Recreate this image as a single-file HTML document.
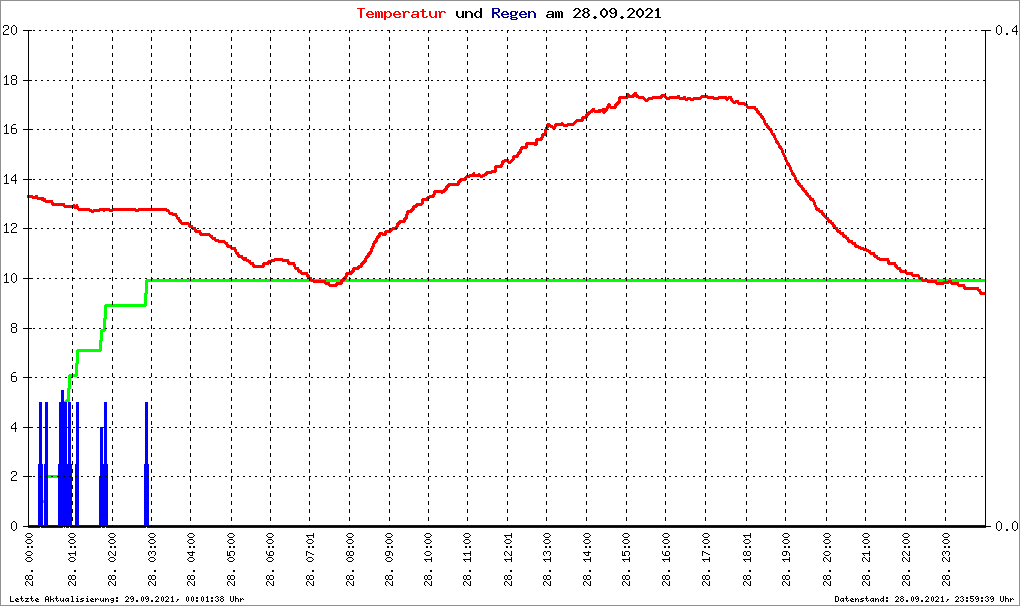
<!DOCTYPE html>
<html><head><meta charset="utf-8"><title>Temperatur und Regen am 28.09.2021</title>
<style>html,body{margin:0;padding:0;background:#fff;font-family:"Liberation Sans",sans-serif}svg{display:block}</style></head>
<body><svg width="1020" height="606" viewBox="0 0 1020 606" shape-rendering="crispEdges">
<rect x="0" y="0" width="1020" height="606" fill="#fff"/>
<path fill="#909090" d="M0 0h1020v606h-1020zM1 1v604h1018v-604z" fill-rule="evenodd"/>
<path fill="#00ff00" d="M43 500h1v3h-1zM48 475h11v3h-11zM64 401h1v1h-1zM65 400h1v2h-1zM66 399h1v3h-1zM67 388h1v14h-1zM68 375h1v27h-1zM69 374h1v28h-1zM70 374h1v15h-1zM71 374h4v3h-4zM75 363h1v14h-1zM76 350h1v27h-1zM77 349h1v27h-1zM78 349h1v15h-1zM79 349h20v3h-20zM99 340h1v12h-1zM100 330h1v22h-1zM101 329h1v22h-1zM102 329h1v12h-1zM103 318h1v14h-1zM104 305h1v27h-1zM105 304h1v27h-1zM106 304h1v15h-1zM107 304h37v3h-37zM144 293h1v14h-1zM145 280h1v27h-1zM146 279h1v27h-1zM147 279h1v15h-1zM148 279h837v3h-837z"/>
<path fill="#0000ff" d="M28 527h10v1h-10zM28 525h10v1h-10zM38 464h1v64h-1zM39 402h1v126h-1zM40 402h1v125h-1zM41 402h1v126h-1zM42 464h1v64h-1zM43 527h1v1h-1zM43 525h1v1h-1zM44 464h1v64h-1zM45 402h3v126h-3zM48 527h10v1h-10zM48 525h10v1h-10zM58 464h1v64h-1zM59 402h2v126h-2zM61 390h2v138h-2zM63 390h1v137h-1zM64 402h1v126h-1zM65 402h1v125h-1zM66 402h1v126h-1zM67 464h1v64h-1zM68 402h1v126h-1zM69 402h1v125h-1zM70 402h1v126h-1zM71 464h1v64h-1zM72 527h3v1h-3zM72 525h3v1h-3zM75 464h1v64h-1zM76 402h3v126h-3zM79 527h20v1h-20zM79 525h20v1h-20zM99 476h1v52h-1zM100 427h1v101h-1zM101 427h1v100h-1zM102 427h1v101h-1zM103 464h1v64h-1zM104 402h1v126h-1zM105 402h1v125h-1zM106 402h1v126h-1zM107 464h1v64h-1zM108 527h36v1h-36zM108 525h36v1h-36zM144 464h1v64h-1zM145 402h1v126h-1zM146 402h1v125h-1zM147 402h1v126h-1zM148 464h1v64h-1zM149 527h837v1h-837zM149 525h837v1h-837z"/>
<path fill="#ff0000" d="M27 195h5v3h-5zM32 195h1v4h-1zM33 196h2v3h-2zM35 195h2v4h-2zM37 195h1v5h-1zM38 197h3v3h-3zM41 197h2v4h-2zM43 197h1v5h-1zM44 198h1v4h-1zM45 198h1v5h-1zM46 200h5v3h-5zM51 200h1v5h-1zM52 200h1v6h-1zM53 202h1v4h-1zM54 203h9v3h-9zM63 203h1v4h-1zM64 203h1v5h-1zM65 205h8v3h-8zM73 204h1v4h-1zM74 204h1v5h-1zM75 205h1v4h-1zM76 204h1v5h-1zM77 204h1v6h-1zM78 206h1v5h-1zM79 208h10v3h-10zM89 208h1v4h-1zM90 209h1v3h-1zM91 209h1v4h-1zM92 210h1v3h-1zM93 209h1v4h-1zM94 209h5v3h-5zM99 208h1v4h-1zM100 208h3v3h-3zM103 208h2v4h-2zM105 208h4v3h-4zM109 208h1v4h-1zM110 209h2v3h-2zM112 208h1v4h-1zM113 208h22v3h-22zM135 208h1v4h-1zM136 209h2v3h-2zM138 208h1v4h-1zM139 208h27v3h-27zM166 208h1v4h-1zM167 209h1v3h-1zM168 209h1v5h-1zM169 210h1v5h-1zM170 212h2v3h-2zM172 212h1v4h-1zM173 213h2v3h-2zM175 213h1v4h-1zM176 213h1v6h-1zM177 215h1v5h-1zM178 217h1v5h-1zM179 217h1v6h-1zM180 219h1v5h-1zM181 220h1v5h-1zM182 222h6v3h-6zM188 222h1v5h-1zM189 223h1v5h-1zM190 225h1v3h-1zM191 225h1v4h-1zM192 225h1v5h-1zM193 227h1v3h-1zM194 227h1v5h-1zM195 227h1v6h-1zM196 229h1v4h-1zM197 230h2v3h-2zM199 230h1v5h-1zM200 230h1v6h-1zM201 232h1v4h-1zM202 233h7v3h-7zM209 233h1v4h-1zM210 234h1v4h-1zM211 235h1v4h-1zM212 235h1v5h-1zM213 237h1v3h-1zM214 237h1v4h-1zM215 237h1v5h-1zM216 239h2v3h-2zM218 239h1v4h-1zM219 240h5v3h-5zM224 240h1v4h-1zM225 241h1v4h-1zM226 242h1v5h-1zM227 242h1v6h-1zM228 244h1v4h-1zM229 245h1v3h-1zM230 245h1v4h-1zM231 245h1v5h-1zM232 247h2v3h-2zM234 247h1v5h-1zM235 247h1v7h-1zM236 249h1v6h-1zM237 252h1v5h-1zM238 252h1v6h-1zM239 254h1v4h-1zM240 255h1v3h-1zM241 255h1v4h-1zM242 255h1v5h-1zM243 257h3v4h-3zM246 257h1v5h-1zM247 259h1v3h-1zM248 259h1v4h-1zM249 260h1v4h-1zM250 260h1v5h-1zM251 262h1v3h-1zM252 262h1v5h-1zM253 262h1v6h-1zM254 264h1v4h-1zM255 265h7v3h-7zM262 263h1v5h-1zM263 262h1v6h-1zM264 262h1v5h-1zM265 262h2v3h-2zM267 261h1v4h-1zM268 260h1v5h-1zM269 260h1v4h-1zM270 260h1v3h-1zM271 259h1v4h-1zM272 259h2v3h-2zM274 258h1v4h-1zM275 258h7v3h-7zM282 258h1v4h-1zM283 259h4v3h-4zM287 259h1v5h-1zM288 259h1v6h-1zM289 261h1v4h-1zM290 262h3v3h-3zM293 262h1v5h-1zM294 262h1v7h-1zM295 264h1v6h-1zM296 267h1v3h-1zM297 267h1v5h-1zM298 267h1v6h-1zM299 269h1v4h-1zM300 270h1v4h-1zM301 270h1v5h-1zM302 272h4v3h-4zM306 272h1v5h-1zM307 272h1v6h-1zM308 274h1v5h-1zM309 275h1v5h-1zM310 277h1v4h-1zM311 277h1v5h-1zM312 279h1v3h-1zM313 279h1v4h-1zM314 280h10v3h-10zM324 280h1v4h-1zM325 280h1v5h-1zM326 282h2v3h-2zM328 282h1v4h-1zM329 282h1v5h-1zM330 284h5v3h-5zM335 283h1v4h-1zM336 282h1v5h-1zM337 282h1v4h-1zM338 282h2v3h-2zM340 280h1v5h-1zM341 279h1v6h-1zM342 278h1v6h-1zM343 277h1v5h-1zM344 276h1v5h-1zM345 273h1v7h-1zM346 272h1v7h-1zM347 272h1v5h-1zM348 272h2v3h-2zM350 271h1v4h-1zM351 270h1v5h-1zM352 268h1v6h-1zM353 267h1v6h-1zM354 267h1v5h-1zM355 267h2v3h-2zM357 266h1v4h-1zM358 265h1v5h-1zM359 265h1v4h-1zM360 263h1v5h-1zM361 262h1v6h-1zM362 261h1v6h-1zM363 260h1v5h-1zM364 258h1v6h-1zM365 256h1v7h-1zM366 255h1v7h-1zM367 253h1v6h-1zM368 252h1v6h-1zM369 251h1v6h-1zM370 248h1v7h-1zM371 246h1v8h-1zM372 243h1v9h-1zM373 241h1v8h-1zM374 240h1v7h-1zM375 238h1v6h-1zM376 236h1v7h-1zM377 235h1v7h-1zM378 233h1v6h-1zM379 232h1v6h-1zM380 232h1v5h-1zM381 232h1v3h-1zM382 232h1v4h-1zM383 233h1v3h-1zM384 231h1v5h-1zM385 230h1v6h-1zM386 230h1v5h-1zM387 230h2v3h-2zM389 229h1v4h-1zM390 228h1v5h-1zM391 228h1v4h-1zM392 227h1v4h-1zM393 227h2v3h-2zM395 226h1v4h-1zM396 223h1v7h-1zM397 222h1v7h-1zM398 221h1v6h-1zM399 220h1v5h-1zM400 220h1v4h-1zM401 220h2v3h-2zM403 218h1v5h-1zM404 217h1v6h-1zM405 214h1v8h-1zM406 211h1v9h-1zM407 210h1v9h-1zM408 210h1v5h-1zM409 210h1v3h-1zM410 209h1v4h-1zM411 208h1v5h-1zM412 206h1v6h-1zM413 205h1v6h-1zM414 205h1v5h-1zM415 204h1v4h-1zM416 203h1v5h-1zM417 203h1v4h-1zM418 203h3v3h-3zM421 199h1v7h-1zM422 198h1v7h-1zM423 198h1v6h-1zM424 198h2v3h-2zM426 197h1v4h-1zM427 196h1v5h-1zM428 196h1v4h-1zM429 195h1v4h-1zM430 195h2v3h-2zM432 194h1v4h-1zM433 191h1v7h-1zM434 190h1v7h-1zM435 190h1v5h-1zM436 190h5v3h-5zM441 190h2v4h-2zM443 189h1v4h-1zM444 188h1v5h-1zM445 186h1v6h-1zM446 185h1v6h-1zM447 184h1v6h-1zM448 183h1v5h-1zM449 183h1v4h-1zM450 183h7v3h-7zM457 181h1v5h-1zM458 180h1v6h-1zM459 179h1v6h-1zM460 178h1v5h-1zM461 178h1v4h-1zM462 178h2v3h-2zM464 177h1v4h-1zM465 176h1v5h-1zM466 175h1v5h-1zM467 175h2v3h-2zM469 174h1v4h-1zM470 174h2v3h-2zM472 173h1v4h-1zM473 172h2v5h-2zM475 174h3v3h-3zM478 173h2v4h-2zM480 174h1v4h-1zM481 175h1v3h-1zM482 174h1v4h-1zM483 174h1v3h-1zM484 173h1v4h-1zM485 172h1v4h-1zM486 171h1v5h-1zM487 171h1v4h-1zM488 171h3v3h-3zM491 170h1v4h-1zM492 170h2v3h-2zM494 166h1v7h-1zM495 165h1v8h-1zM496 165h1v7h-1zM497 165h3v3h-3zM500 164h1v4h-1zM501 161h1v7h-1zM502 160h1v7h-1zM503 160h1v5h-1zM504 159h1v4h-1zM505 159h2v3h-2zM507 159h1v4h-1zM508 159h1v5h-1zM509 161h1v3h-1zM510 160h1v4h-1zM511 159h1v4h-1zM512 156h1v6h-1zM513 155h1v6h-1zM514 155h1v5h-1zM515 155h1v3h-1zM516 154h1v4h-1zM517 152h1v6h-1zM518 151h1v6h-1zM519 149h1v6h-1zM520 147h1v7h-1zM521 146h1v7h-1zM522 146h1v4h-1zM523 146h2v3h-2zM525 143h1v6h-1zM526 142h1v7h-1zM527 142h1v6h-1zM528 142h6v3h-6zM534 142h1v4h-1zM535 139h1v7h-1zM536 138h1v8h-1zM537 138h1v7h-1zM538 138h2v3h-2zM540 137h1v4h-1zM541 134h1v7h-1zM542 133h1v7h-1zM543 133h1v5h-1zM544 129h1v7h-1zM545 127h1v9h-1zM546 124h1v11h-1zM547 123h1v7h-1zM548 123h1v5h-1zM549 123h1v4h-1zM550 124h1v4h-1zM551 125h1v3h-1zM552 125h1v4h-1zM553 126h1v4h-1zM554 124h1v6h-1zM555 123h1v6h-1zM556 123h1v4h-1zM557 123h4v3h-4zM561 122h2v4h-2zM563 123h1v4h-1zM564 124h3v3h-3zM567 123h1v4h-1zM568 123h5v3h-5zM573 122h1v4h-1zM574 121h1v4h-1zM575 120h1v4h-1zM576 119h1v4h-1zM577 119h4v3h-4zM581 117h1v5h-1zM582 116h1v6h-1zM583 116h1v5h-1zM584 116h1v3h-1zM585 114h1v5h-1zM586 113h1v6h-1zM587 112h1v6h-1zM588 111h1v5h-1zM589 111h1v4h-1zM590 110h1v4h-1zM591 109h1v4h-1zM592 108h1v5h-1zM593 108h1v4h-1zM594 108h1v5h-1zM595 110h3v3h-3zM598 109h3v4h-3zM601 109h1v3h-1zM602 108h1v5h-1zM603 108h2v6h-2zM605 108h1v5h-1zM606 106h1v6h-1zM607 104h1v7h-1zM608 103h1v6h-1zM609 103h1v5h-1zM610 104h1v5h-1zM611 106h3v3h-3zM614 104h1v5h-1zM615 103h1v6h-1zM616 102h1v6h-1zM617 101h1v5h-1zM618 97h1v8h-1zM619 96h1v8h-1zM620 96h1v7h-1zM621 96h5v3h-5zM626 94h1v5h-1zM627 93h1v6h-1zM628 93h1v5h-1zM629 94h1v4h-1zM630 95h2v3h-2zM632 94h1v4h-1zM633 93h1v5h-1zM634 92h2v5h-2zM636 92h1v6h-1zM637 94h1v4h-1zM638 95h1v4h-1zM639 96h4v3h-4zM643 96h1v4h-1zM644 97h1v4h-1zM645 98h1v4h-1zM646 99h1v3h-1zM647 98h1v4h-1zM648 97h1v4h-1zM649 97h3v3h-3zM652 96h1v4h-1zM653 96h7v3h-7zM660 95h1v4h-1zM661 94h1v5h-1zM662 94h1v4h-1zM663 94h1v3h-1zM664 94h1v4h-1zM665 94h1v5h-1zM666 96h1v4h-1zM667 97h2v3h-2zM669 96h1v4h-1zM670 96h7v3h-7zM677 95h2v4h-2zM679 95h1v5h-1zM680 97h3v3h-3zM683 96h2v4h-2zM685 96h1v5h-1zM686 98h1v3h-1zM687 97h1v4h-1zM688 97h2v3h-2zM690 97h1v4h-1zM691 98h2v3h-2zM693 97h1v4h-1zM694 97h6v3h-6zM700 96h1v4h-1zM701 95h1v4h-1zM702 95h5v3h-5zM707 95h1v4h-1zM708 96h5v3h-5zM713 96h1v4h-1zM714 97h4v3h-4zM718 96h1v4h-1zM719 96h6v3h-6zM725 96h1v4h-1zM726 96h1v5h-1zM727 97h1v4h-1zM728 96h1v4h-1zM729 96h1v3h-1zM730 96h1v5h-1zM731 96h1v6h-1zM732 98h1v5h-1zM733 100h1v4h-1zM734 101h1v3h-1zM735 100h1v4h-1zM736 100h1v3h-1zM737 100h1v4h-1zM738 100h1v5h-1zM739 102h5v3h-5zM744 102h1v4h-1zM745 103h1v3h-1zM746 103h1v5h-1zM747 104h1v5h-1zM748 106h6v3h-6zM754 106h1v4h-1zM755 106h1v5h-1zM756 108h1v5h-1zM757 108h1v6h-1zM758 110h1v5h-1zM759 111h1v5h-1zM760 113h1v5h-1zM761 113h1v6h-1zM762 115h1v5h-1zM763 116h1v7h-1zM764 118h1v7h-1zM765 120h1v6h-1zM766 123h1v5h-1zM767 123h1v6h-1zM768 125h1v5h-1zM769 126h1v5h-1zM770 128h1v5h-1zM771 128h1v7h-1zM772 130h1v6h-1zM773 133h1v5h-1zM774 133h1v7h-1zM775 135h1v8h-1zM776 138h1v6h-1zM777 140h1v5h-1zM778 141h1v7h-1zM779 143h1v6h-1zM780 145h1v5h-1zM781 146h1v7h-1zM782 148h1v7h-1zM783 150h1v7h-1zM784 153h1v7h-1zM785 155h1v7h-1zM786 157h1v8h-1zM787 160h1v6h-1zM788 162h1v5h-1zM789 163h1v7h-1zM790 165h1v7h-1zM791 167h1v8h-1zM792 170h1v6h-1zM793 172h1v5h-1zM794 173h1v7h-1zM795 175h1v7h-1zM796 177h1v6h-1zM797 180h1v5h-1zM798 180h1v6h-1zM799 182h1v5h-1zM800 183h1v5h-1zM801 185h1v5h-1zM802 185h1v6h-1zM803 187h1v5h-1zM804 188h1v5h-1zM805 190h1v5h-1zM806 190h1v6h-1zM807 192h1v5h-1zM808 193h1v5h-1zM809 195h1v5h-1zM810 195h1v6h-1zM811 197h1v4h-1zM812 198h1v4h-1zM813 198h1v7h-1zM814 200h1v7h-1zM815 202h1v8h-1zM816 205h1v6h-1zM817 207h1v4h-1zM818 208h1v4h-1zM819 208h1v5h-1zM820 210h1v3h-1zM821 210h1v5h-1zM822 210h1v6h-1zM823 212h1v5h-1zM824 213h1v5h-1zM825 215h1v4h-1zM826 215h1v5h-1zM827 217h1v5h-1zM828 217h1v6h-1zM829 219h1v4h-1zM830 220h1v4h-1zM831 220h1v5h-1zM832 222h1v5h-1zM833 222h1v6h-1zM834 224h1v5h-1zM835 225h1v5h-1zM836 227h1v5h-1zM837 227h1v6h-1zM838 229h1v4h-1zM839 230h1v4h-1zM840 230h1v5h-1zM841 232h1v3h-1zM842 232h1v5h-1zM843 232h1v6h-1zM844 234h1v4h-1zM845 235h1v4h-1zM846 235h1v5h-1zM847 237h1v5h-1zM848 237h1v6h-1zM849 239h1v4h-1zM850 240h1v3h-1zM851 240h1v4h-1zM852 240h1v5h-1zM853 242h1v3h-1zM854 242h1v5h-1zM855 242h1v6h-1zM856 244h1v4h-1zM857 245h1v3h-1zM858 245h1v4h-1zM859 246h1v3h-1zM860 246h1v4h-1zM861 247h2v3h-2zM863 247h1v4h-1zM864 248h2v3h-2zM866 248h1v4h-1zM867 249h1v3h-1zM868 249h1v4h-1zM869 250h1v4h-1zM870 250h1v5h-1zM871 252h2v3h-2zM873 252h1v5h-1zM874 252h1v6h-1zM875 254h1v4h-1zM876 255h1v4h-1zM877 255h1v5h-1zM878 257h1v3h-1zM879 257h1v4h-1zM880 258h7v3h-7zM887 258h1v6h-1zM888 258h1v7h-1zM889 260h1v5h-1zM890 262h4v3h-4zM894 262h1v5h-1zM895 262h1v6h-1zM896 264h1v5h-1zM897 265h1v5h-1zM898 267h1v3h-1zM899 267h1v5h-1zM900 267h1v6h-1zM901 269h1v4h-1zM902 270h3v3h-3zM905 270h1v4h-1zM906 270h1v5h-1zM907 272h4v3h-4zM911 272h1v4h-1zM912 272h1v5h-1zM913 274h5v3h-5zM918 274h1v5h-1zM919 275h1v5h-1zM920 277h1v3h-1zM921 277h1v4h-1zM922 277h1v5h-1zM923 279h4v3h-4zM927 279h1v4h-1zM928 280h7v3h-7zM935 280h1v4h-1zM936 280h1v5h-1zM937 282h6v3h-6zM943 281h1v4h-1zM944 281h4v3h-4zM948 280h1v4h-1zM949 280h1v3h-1zM950 280h1v4h-1zM951 280h1v5h-1zM952 282h5v3h-5zM957 282h1v4h-1zM958 282h1v5h-1zM959 284h4v3h-4zM963 284h1v5h-1zM964 284h1v6h-1zM965 286h1v4h-1zM966 287h11v3h-11zM977 287h1v4h-1zM978 287h1v5h-1zM979 289h1v5h-1zM980 289h1v6h-1zM981 291h1v4h-1zM982 292h3v3h-3z"/>
<path fill="#000" d="M29 526h2v1h-2zM29 228h2v1h-2zM29 80h2v1h-2zM29 377h2v1h-2zM31 427h2v1h-2zM31 129h2v1h-2zM31 278h2v1h-2zM33 328h2v1h-2zM33 30h2v1h-2zM33 476h2v1h-2zM33 179h2v1h-2zM35 526h2v1h-2zM35 228h2v1h-2zM35 80h2v1h-2zM35 377h2v1h-2zM37 427h2v1h-2zM37 129h2v1h-2zM37 278h2v1h-2zM39 328h2v1h-2zM39 30h2v1h-2zM39 476h2v1h-2zM39 179h2v1h-2zM41 526h2v1h-2zM41 228h2v1h-2zM41 80h2v1h-2zM41 377h2v1h-2zM43 427h2v1h-2zM43 129h2v1h-2zM43 278h2v1h-2zM45 328h2v1h-2zM45 30h2v1h-2zM45 476h2v1h-2zM45 179h2v1h-2zM47 526h2v1h-2zM47 228h2v1h-2zM47 80h2v1h-2zM47 377h2v1h-2zM49 427h2v1h-2zM49 129h2v1h-2zM49 278h2v1h-2zM51 328h2v1h-2zM51 30h2v1h-2zM51 476h2v1h-2zM51 179h2v1h-2zM53 526h2v1h-2zM53 228h2v1h-2zM53 80h2v1h-2zM53 377h2v1h-2zM55 427h2v1h-2zM55 129h2v1h-2zM55 278h2v1h-2zM57 328h2v1h-2zM57 30h2v1h-2zM57 476h2v1h-2zM57 179h2v1h-2zM59 526h2v1h-2zM59 228h2v1h-2zM59 80h2v1h-2zM59 377h2v1h-2zM61 427h2v1h-2zM61 129h2v1h-2zM61 278h2v1h-2zM63 328h2v1h-2zM63 30h2v1h-2zM63 476h2v1h-2zM63 179h2v1h-2zM65 526h2v1h-2zM65 228h2v1h-2zM65 80h2v1h-2zM65 377h2v1h-2zM67 427h2v1h-2zM67 129h2v1h-2zM67 278h2v1h-2zM69 328h2v1h-2zM69 30h2v1h-2zM69 476h2v1h-2zM69 179h2v1h-2zM71 526h1v1h-1zM71 228h1v1h-1zM71 80h1v1h-1zM71 377h1v1h-1zM72 485h1v4h-1zM72 453h1v4h-1zM72 301h1v4h-1zM72 517h1v4h-1zM72 269h1v4h-1zM72 77h1v4h-1zM72 141h1v4h-1zM72 333h1v4h-1zM72 173h1v4h-1zM72 237h1v4h-1zM72 397h1v4h-1zM72 357h1v4h-1zM72 205h1v4h-1zM72 421h1v4h-1zM72 477h1v4h-1zM72 197h1v4h-1zM72 45h1v4h-1zM72 109h1v4h-1zM72 261h1v4h-1zM72 293h1v4h-1zM72 30h1v3h-1zM72 325h1v4h-1zM72 373h1v5h-1zM72 389h1v4h-1zM72 381h1v4h-1zM72 101h1v4h-1zM72 165h1v4h-1zM72 445h1v4h-1zM72 285h1v4h-1zM72 133h1v4h-1zM72 69h1v4h-1zM72 53h1v4h-1zM72 213h1v4h-1zM72 349h1v4h-1zM72 413h1v4h-1zM72 525h1v2h-1zM72 437h1v4h-1zM72 221h1v4h-1zM72 501h1v4h-1zM72 469h1v4h-1zM72 189h1v4h-1zM72 37h1v4h-1zM72 253h1v4h-1zM72 317h1v4h-1zM72 93h1v4h-1zM72 157h1v4h-1zM72 85h1v4h-1zM72 277h1v4h-1zM72 125h1v4h-1zM72 341h1v4h-1zM72 228h1v5h-1zM72 181h1v4h-1zM72 245h1v4h-1zM72 309h1v4h-1zM72 405h1v4h-1zM72 61h1v4h-1zM72 509h1v4h-1zM72 461h1v4h-1zM72 365h1v4h-1zM72 149h1v4h-1zM72 429h1v4h-1zM72 493h1v4h-1zM72 117h1v4h-1zM73 427h2v1h-2zM73 129h2v1h-2zM73 278h2v1h-2zM75 328h2v1h-2zM75 30h2v1h-2zM75 476h2v1h-2zM75 179h2v1h-2zM77 526h2v1h-2zM77 228h2v1h-2zM77 80h2v1h-2zM77 377h2v1h-2zM79 427h2v1h-2zM79 129h2v1h-2zM79 278h2v1h-2zM81 328h2v1h-2zM81 30h2v1h-2zM81 476h2v1h-2zM81 179h2v1h-2zM83 526h2v1h-2zM83 228h2v1h-2zM83 80h2v1h-2zM83 377h2v1h-2zM85 427h2v1h-2zM85 129h2v1h-2zM85 278h2v1h-2zM87 328h2v1h-2zM87 30h2v1h-2zM87 476h2v1h-2zM87 179h2v1h-2zM89 526h2v1h-2zM89 228h2v1h-2zM89 80h2v1h-2zM89 377h2v1h-2zM91 427h2v1h-2zM91 129h2v1h-2zM91 278h2v1h-2zM93 328h2v1h-2zM93 30h2v1h-2zM93 476h2v1h-2zM93 179h2v1h-2zM95 526h2v1h-2zM95 228h2v1h-2zM95 80h2v1h-2zM95 377h2v1h-2zM97 427h2v1h-2zM97 129h2v1h-2zM97 278h2v1h-2zM99 328h2v1h-2zM99 30h2v1h-2zM99 476h2v1h-2zM99 179h2v1h-2zM101 526h2v1h-2zM101 228h2v1h-2zM101 80h2v1h-2zM101 377h2v1h-2zM103 427h2v1h-2zM103 129h2v1h-2zM103 278h2v1h-2zM105 328h2v1h-2zM105 30h2v1h-2zM105 476h2v1h-2zM105 179h2v1h-2zM107 526h2v1h-2zM107 228h2v1h-2zM107 80h2v1h-2zM107 377h2v1h-2zM109 427h2v1h-2zM109 129h2v1h-2zM109 278h2v1h-2zM111 328h1v1h-1zM111 30h1v1h-1zM111 476h1v1h-1zM111 179h2v1h-2zM112 453h1v4h-1zM112 301h1v4h-1zM112 517h1v4h-1zM112 269h1v4h-1zM112 77h1v4h-1zM112 141h1v4h-1zM112 333h1v4h-1zM112 173h1v4h-1zM112 237h1v4h-1zM112 397h1v4h-1zM112 357h1v4h-1zM112 205h1v4h-1zM112 421h1v4h-1zM112 485h1v4h-1zM112 197h1v4h-1zM112 45h1v4h-1zM112 109h1v4h-1zM112 261h1v4h-1zM112 293h1v4h-1zM112 30h1v3h-1zM112 325h1v4h-1zM112 389h1v4h-1zM112 381h1v4h-1zM112 101h1v4h-1zM112 165h1v4h-1zM112 229h1v4h-1zM112 285h1v4h-1zM112 133h1v4h-1zM112 69h1v4h-1zM112 53h1v4h-1zM112 213h1v4h-1zM112 349h1v4h-1zM112 413h1v4h-1zM112 501h1v4h-1zM112 373h1v4h-1zM112 221h1v4h-1zM112 437h1v4h-1zM112 469h1v4h-1zM112 189h1v4h-1zM112 37h1v4h-1zM112 253h1v4h-1zM112 317h1v4h-1zM112 93h1v4h-1zM112 157h1v4h-1zM112 85h1v4h-1zM112 277h1v4h-1zM112 125h1v4h-1zM112 341h1v4h-1zM112 405h1v4h-1zM112 181h1v4h-1zM112 245h1v4h-1zM112 309h1v4h-1zM112 61h1v4h-1zM112 509h1v4h-1zM112 476h1v5h-1zM112 525h1v1h-1zM112 445h1v4h-1zM112 461h1v4h-1zM112 365h1v4h-1zM112 149h1v4h-1zM112 429h1v4h-1zM112 493h1v4h-1zM112 117h1v4h-1zM113 526h2v1h-2zM113 228h2v1h-2zM113 80h2v1h-2zM113 377h2v1h-2zM115 427h2v1h-2zM115 129h2v1h-2zM115 278h2v1h-2zM117 328h2v1h-2zM117 30h2v1h-2zM117 476h2v1h-2zM117 179h2v1h-2zM119 526h2v1h-2zM119 228h2v1h-2zM119 80h2v1h-2zM119 377h2v1h-2zM121 427h2v1h-2zM121 129h2v1h-2zM121 278h2v1h-2zM123 328h2v1h-2zM123 30h2v1h-2zM123 476h2v1h-2zM123 179h2v1h-2zM125 526h2v1h-2zM125 228h2v1h-2zM125 80h2v1h-2zM125 377h2v1h-2zM127 427h2v1h-2zM127 129h2v1h-2zM127 278h2v1h-2zM129 328h2v1h-2zM129 30h2v1h-2zM129 476h2v1h-2zM129 179h2v1h-2zM131 526h2v1h-2zM131 228h2v1h-2zM131 80h2v1h-2zM131 377h2v1h-2zM133 427h2v1h-2zM133 129h2v1h-2zM133 278h2v1h-2zM135 328h2v1h-2zM135 30h2v1h-2zM135 476h2v1h-2zM135 179h2v1h-2zM137 526h2v1h-2zM137 228h2v1h-2zM137 80h2v1h-2zM137 377h2v1h-2zM139 427h2v1h-2zM139 129h2v1h-2zM139 278h2v1h-2zM141 328h2v1h-2zM141 30h2v1h-2zM141 476h2v1h-2zM141 179h2v1h-2zM143 526h2v1h-2zM143 228h2v1h-2zM143 80h2v1h-2zM143 377h2v1h-2zM145 427h2v1h-2zM145 129h2v1h-2zM145 278h2v1h-2zM147 328h2v1h-2zM147 30h2v1h-2zM147 476h2v1h-2zM147 179h2v1h-2zM149 526h2v1h-2zM149 228h2v1h-2zM149 80h2v1h-2zM149 377h2v1h-2zM151 485h1v4h-1zM151 453h1v4h-1zM151 301h1v4h-1zM151 517h1v4h-1zM151 269h1v4h-1zM151 77h1v4h-1zM151 141h1v4h-1zM151 333h1v4h-1zM151 173h1v4h-1zM151 237h1v4h-1zM151 397h1v4h-1zM151 357h1v4h-1zM151 205h1v4h-1zM151 421h1v4h-1zM151 477h1v4h-1zM151 197h1v4h-1zM151 45h1v4h-1zM151 109h1v4h-1zM151 261h1v4h-1zM151 293h1v4h-1zM151 30h1v3h-1zM151 325h1v4h-1zM151 389h1v4h-1zM151 381h1v4h-1zM151 101h1v4h-1zM151 165h1v4h-1zM151 229h1v4h-1zM151 125h1v5h-1zM151 133h1v4h-1zM151 69h1v4h-1zM151 53h1v4h-1zM151 213h1v4h-1zM151 285h1v4h-1zM151 349h1v4h-1zM151 413h1v4h-1zM151 501h1v4h-1zM151 373h1v4h-1zM151 221h1v4h-1zM151 437h1v4h-1zM151 469h1v4h-1zM151 189h1v4h-1zM151 37h1v4h-1zM151 253h1v4h-1zM151 317h1v4h-1zM151 93h1v4h-1zM151 157h1v4h-1zM151 85h1v4h-1zM151 277h1v4h-1zM151 341h1v4h-1zM151 405h1v4h-1zM151 181h1v4h-1zM151 245h1v4h-1zM151 309h1v4h-1zM151 61h1v4h-1zM151 509h1v4h-1zM151 525h1v1h-1zM151 445h1v4h-1zM151 461h1v4h-1zM151 365h1v4h-1zM151 149h1v4h-1zM151 429h1v4h-1zM151 493h1v4h-1zM151 117h1v4h-1zM151 427h2v1h-2zM152 129h1v1h-1zM152 278h1v1h-1zM153 328h2v1h-2zM153 30h2v1h-2zM153 476h2v1h-2zM153 179h2v1h-2zM155 526h2v1h-2zM155 228h2v1h-2zM155 80h2v1h-2zM155 377h2v1h-2zM157 427h2v1h-2zM157 129h2v1h-2zM157 278h2v1h-2zM159 328h2v1h-2zM159 30h2v1h-2zM159 476h2v1h-2zM159 179h2v1h-2zM161 526h2v1h-2zM161 228h2v1h-2zM161 80h2v1h-2zM161 377h2v1h-2zM163 427h2v1h-2zM163 129h2v1h-2zM163 278h2v1h-2zM165 328h2v1h-2zM165 30h2v1h-2zM165 476h2v1h-2zM165 179h2v1h-2zM167 526h2v1h-2zM167 228h2v1h-2zM167 80h2v1h-2zM167 377h2v1h-2zM169 427h2v1h-2zM169 129h2v1h-2zM169 278h2v1h-2zM171 328h2v1h-2zM171 30h2v1h-2zM171 476h2v1h-2zM171 179h2v1h-2zM173 526h2v1h-2zM173 228h2v1h-2zM173 80h2v1h-2zM173 377h2v1h-2zM175 427h2v1h-2zM175 129h2v1h-2zM175 278h2v1h-2zM177 328h2v1h-2zM177 30h2v1h-2zM177 476h2v1h-2zM177 179h2v1h-2zM179 526h2v1h-2zM179 228h2v1h-2zM179 80h2v1h-2zM179 377h2v1h-2zM181 427h2v1h-2zM181 129h2v1h-2zM181 278h2v1h-2zM183 328h2v1h-2zM183 30h2v1h-2zM183 476h2v1h-2zM183 179h2v1h-2zM185 526h2v1h-2zM185 228h2v1h-2zM185 80h2v1h-2zM185 377h2v1h-2zM187 427h2v1h-2zM187 129h2v1h-2zM187 278h2v1h-2zM189 328h1v1h-1zM189 30h1v1h-1zM189 476h1v1h-1zM189 179h2v1h-2zM190 453h1v4h-1zM190 301h1v4h-1zM190 517h1v4h-1zM190 269h1v4h-1zM190 77h1v4h-1zM190 141h1v4h-1zM190 333h1v4h-1zM190 173h1v4h-1zM190 237h1v4h-1zM190 397h1v4h-1zM190 357h1v4h-1zM190 205h1v4h-1zM190 421h1v4h-1zM190 485h1v4h-1zM190 197h1v4h-1zM190 45h1v4h-1zM190 109h1v4h-1zM190 261h1v4h-1zM190 293h1v4h-1zM190 30h1v3h-1zM190 325h1v4h-1zM190 389h1v4h-1zM190 381h1v4h-1zM190 101h1v4h-1zM190 165h1v4h-1zM190 229h1v4h-1zM190 285h1v4h-1zM190 133h1v4h-1zM190 69h1v4h-1zM190 53h1v4h-1zM190 213h1v4h-1zM190 349h1v4h-1zM190 413h1v4h-1zM190 501h1v4h-1zM190 373h1v4h-1zM190 221h1v4h-1zM190 437h1v4h-1zM190 469h1v4h-1zM190 189h1v4h-1zM190 37h1v4h-1zM190 253h1v4h-1zM190 317h1v4h-1zM190 93h1v4h-1zM190 157h1v4h-1zM190 85h1v4h-1zM190 277h1v4h-1zM190 125h1v4h-1zM190 341h1v4h-1zM190 405h1v4h-1zM190 181h1v4h-1zM190 245h1v4h-1zM190 309h1v4h-1zM190 61h1v4h-1zM190 509h1v4h-1zM190 476h1v5h-1zM190 525h1v1h-1zM190 445h1v4h-1zM190 461h1v4h-1zM190 365h1v4h-1zM190 149h1v4h-1zM190 429h1v4h-1zM190 493h1v4h-1zM190 117h1v4h-1zM191 526h2v1h-2zM191 228h2v1h-2zM191 80h2v1h-2zM191 377h2v1h-2zM193 427h2v1h-2zM193 129h2v1h-2zM193 278h2v1h-2zM195 328h2v1h-2zM195 30h2v1h-2zM195 476h2v1h-2zM195 179h2v1h-2zM197 526h2v1h-2zM197 228h2v1h-2zM197 80h2v1h-2zM197 377h2v1h-2zM199 427h2v1h-2zM199 129h2v1h-2zM199 278h2v1h-2zM201 328h2v1h-2zM201 30h2v1h-2zM201 476h2v1h-2zM201 179h2v1h-2zM203 526h2v1h-2zM203 228h2v1h-2zM203 80h2v1h-2zM203 377h2v1h-2zM205 427h2v1h-2zM205 129h2v1h-2zM205 278h2v1h-2zM207 328h2v1h-2zM207 30h2v1h-2zM207 476h2v1h-2zM207 179h2v1h-2zM209 526h2v1h-2zM209 228h2v1h-2zM209 80h2v1h-2zM209 377h2v1h-2zM211 427h2v1h-2zM211 129h2v1h-2zM211 278h2v1h-2zM213 328h2v1h-2zM213 30h2v1h-2zM213 476h2v1h-2zM213 179h2v1h-2zM215 526h2v1h-2zM215 228h2v1h-2zM215 80h2v1h-2zM215 377h2v1h-2zM217 427h2v1h-2zM217 129h2v1h-2zM217 278h2v1h-2zM219 328h2v1h-2zM219 30h2v1h-2zM219 476h2v1h-2zM219 179h2v1h-2zM221 526h2v1h-2zM221 228h2v1h-2zM221 80h2v1h-2zM221 377h2v1h-2zM223 427h2v1h-2zM223 129h2v1h-2zM223 278h2v1h-2zM225 328h2v1h-2zM225 30h2v1h-2zM225 476h2v1h-2zM225 179h2v1h-2zM227 526h2v1h-2zM227 228h2v1h-2zM227 80h2v1h-2zM227 377h2v1h-2zM229 427h2v1h-2zM229 129h2v1h-2zM229 278h2v1h-2zM231 453h1v4h-1zM231 301h1v4h-1zM231 517h1v4h-1zM231 269h1v4h-1zM231 77h1v4h-1zM231 141h1v4h-1zM231 333h1v4h-1zM231 173h1v4h-1zM231 237h1v4h-1zM231 397h1v4h-1zM231 357h1v4h-1zM231 205h1v4h-1zM231 421h1v4h-1zM231 485h1v4h-1zM231 197h1v4h-1zM231 45h1v4h-1zM231 109h1v4h-1zM231 261h1v4h-1zM231 293h1v4h-1zM231 30h1v3h-1zM231 325h1v4h-1zM231 389h1v4h-1zM231 381h1v4h-1zM231 101h1v4h-1zM231 165h1v4h-1zM231 229h1v4h-1zM231 285h1v4h-1zM231 133h1v4h-1zM231 69h1v4h-1zM231 53h1v4h-1zM231 213h1v4h-1zM231 349h1v4h-1zM231 413h1v4h-1zM231 501h1v4h-1zM231 373h1v4h-1zM231 221h1v4h-1zM231 437h1v4h-1zM231 469h1v4h-1zM231 189h1v4h-1zM231 37h1v4h-1zM231 253h1v4h-1zM231 317h1v4h-1zM231 93h1v4h-1zM231 157h1v4h-1zM231 85h1v4h-1zM231 277h1v4h-1zM231 125h1v4h-1zM231 341h1v4h-1zM231 405h1v4h-1zM231 181h1v4h-1zM231 245h1v4h-1zM231 309h1v4h-1zM231 61h1v4h-1zM231 509h1v4h-1zM231 476h1v5h-1zM231 525h1v1h-1zM231 445h1v4h-1zM231 461h1v4h-1zM231 365h1v4h-1zM231 149h1v4h-1zM231 429h1v4h-1zM231 493h1v4h-1zM231 117h1v4h-1zM231 179h2v1h-2zM232 328h1v1h-1zM232 30h1v1h-1zM232 476h1v1h-1zM233 526h2v1h-2zM233 228h2v1h-2zM233 80h2v1h-2zM233 377h2v1h-2zM235 427h2v1h-2zM235 129h2v1h-2zM235 278h2v1h-2zM237 328h2v1h-2zM237 30h2v1h-2zM237 476h2v1h-2zM237 179h2v1h-2zM239 526h2v1h-2zM239 228h2v1h-2zM239 80h2v1h-2zM239 377h2v1h-2zM241 427h2v1h-2zM241 129h2v1h-2zM241 278h2v1h-2zM243 328h2v1h-2zM243 30h2v1h-2zM243 476h2v1h-2zM243 179h2v1h-2zM245 526h2v1h-2zM245 228h2v1h-2zM245 80h2v1h-2zM245 377h2v1h-2zM247 427h2v1h-2zM247 129h2v1h-2zM247 278h2v1h-2zM249 328h2v1h-2zM249 30h2v1h-2zM249 476h2v1h-2zM249 179h2v1h-2zM251 526h2v1h-2zM251 228h2v1h-2zM251 80h2v1h-2zM251 377h2v1h-2zM253 427h2v1h-2zM253 129h2v1h-2zM253 278h2v1h-2zM255 328h2v1h-2zM255 30h2v1h-2zM255 476h2v1h-2zM255 179h2v1h-2zM257 526h2v1h-2zM257 228h2v1h-2zM257 80h2v1h-2zM257 377h2v1h-2zM259 427h2v1h-2zM259 129h2v1h-2zM259 278h2v1h-2zM261 328h2v1h-2zM261 30h2v1h-2zM261 476h2v1h-2zM261 179h2v1h-2zM263 526h2v1h-2zM263 228h2v1h-2zM263 80h2v1h-2zM263 377h2v1h-2zM265 427h2v1h-2zM265 129h2v1h-2zM265 278h2v1h-2zM267 328h2v1h-2zM267 30h2v1h-2zM267 476h2v1h-2zM267 179h2v1h-2zM269 526h1v1h-1zM269 228h1v1h-1zM269 80h1v1h-1zM269 377h1v1h-1zM270 485h1v4h-1zM270 453h1v4h-1zM270 301h1v4h-1zM270 517h1v4h-1zM270 269h1v4h-1zM270 77h1v4h-1zM270 141h1v4h-1zM270 333h1v4h-1zM270 173h1v4h-1zM270 237h1v4h-1zM270 397h1v4h-1zM270 357h1v4h-1zM270 205h1v4h-1zM270 421h1v4h-1zM270 477h1v4h-1zM270 197h1v4h-1zM270 45h1v4h-1zM270 109h1v4h-1zM270 261h1v4h-1zM270 293h1v4h-1zM270 30h1v3h-1zM270 325h1v4h-1zM270 373h1v5h-1zM270 389h1v4h-1zM270 381h1v4h-1zM270 101h1v4h-1zM270 165h1v4h-1zM270 445h1v4h-1zM270 285h1v4h-1zM270 133h1v4h-1zM270 69h1v4h-1zM270 53h1v4h-1zM270 213h1v4h-1zM270 349h1v4h-1zM270 413h1v4h-1zM270 525h1v2h-1zM270 437h1v4h-1zM270 221h1v4h-1zM270 501h1v4h-1zM270 469h1v4h-1zM270 189h1v4h-1zM270 37h1v4h-1zM270 253h1v4h-1zM270 317h1v4h-1zM270 93h1v4h-1zM270 157h1v4h-1zM270 85h1v4h-1zM270 277h1v4h-1zM270 125h1v4h-1zM270 341h1v4h-1zM270 228h1v5h-1zM270 181h1v4h-1zM270 245h1v4h-1zM270 309h1v4h-1zM270 405h1v4h-1zM270 61h1v4h-1zM270 509h1v4h-1zM270 461h1v4h-1zM270 365h1v4h-1zM270 149h1v4h-1zM270 429h1v4h-1zM270 493h1v4h-1zM270 117h1v4h-1zM271 427h2v1h-2zM271 129h2v1h-2zM271 278h2v1h-2zM273 328h2v1h-2zM273 30h2v1h-2zM273 476h2v1h-2zM273 179h2v1h-2zM275 526h2v1h-2zM275 228h2v1h-2zM275 80h2v1h-2zM275 377h2v1h-2zM277 427h2v1h-2zM277 129h2v1h-2zM277 278h2v1h-2zM279 328h2v1h-2zM279 30h2v1h-2zM279 476h2v1h-2zM279 179h2v1h-2zM281 526h2v1h-2zM281 228h2v1h-2zM281 80h2v1h-2zM281 377h2v1h-2zM283 427h2v1h-2zM283 129h2v1h-2zM283 278h2v1h-2zM285 328h2v1h-2zM285 30h2v1h-2zM285 476h2v1h-2zM285 179h2v1h-2zM287 526h2v1h-2zM287 228h2v1h-2zM287 80h2v1h-2zM287 377h2v1h-2zM289 427h2v1h-2zM289 129h2v1h-2zM289 278h2v1h-2zM291 328h2v1h-2zM291 30h2v1h-2zM291 476h2v1h-2zM291 179h2v1h-2zM293 526h2v1h-2zM293 228h2v1h-2zM293 80h2v1h-2zM293 377h2v1h-2zM295 427h2v1h-2zM295 129h2v1h-2zM295 278h2v1h-2zM297 328h2v1h-2zM297 30h2v1h-2zM297 476h2v1h-2zM297 179h2v1h-2zM299 526h2v1h-2zM299 228h2v1h-2zM299 80h2v1h-2zM299 377h2v1h-2zM301 427h2v1h-2zM301 129h2v1h-2zM301 278h2v1h-2zM303 328h2v1h-2zM303 30h2v1h-2zM303 476h2v1h-2zM303 179h2v1h-2zM305 526h2v1h-2zM305 228h2v1h-2zM305 80h2v1h-2zM305 377h2v1h-2zM307 427h2v1h-2zM307 129h2v1h-2zM307 278h2v1h-2zM309 453h1v4h-1zM309 301h1v4h-1zM309 517h1v4h-1zM309 269h1v4h-1zM309 77h1v4h-1zM309 141h1v4h-1zM309 333h1v4h-1zM309 173h1v4h-1zM309 237h1v4h-1zM309 397h1v4h-1zM309 357h1v4h-1zM309 205h1v4h-1zM309 421h1v4h-1zM309 485h1v4h-1zM309 197h1v4h-1zM309 45h1v4h-1zM309 109h1v4h-1zM309 261h1v4h-1zM309 293h1v4h-1zM309 30h1v3h-1zM309 325h1v4h-1zM309 389h1v4h-1zM309 381h1v4h-1zM309 101h1v4h-1zM309 165h1v4h-1zM309 229h1v4h-1zM309 285h1v4h-1zM309 133h1v4h-1zM309 69h1v4h-1zM309 53h1v4h-1zM309 213h1v4h-1zM309 349h1v4h-1zM309 413h1v4h-1zM309 501h1v4h-1zM309 373h1v4h-1zM309 221h1v4h-1zM309 437h1v4h-1zM309 469h1v4h-1zM309 189h1v4h-1zM309 37h1v4h-1zM309 253h1v4h-1zM309 317h1v4h-1zM309 93h1v4h-1zM309 157h1v4h-1zM309 85h1v4h-1zM309 277h1v4h-1zM309 125h1v4h-1zM309 341h1v4h-1zM309 405h1v4h-1zM309 181h1v4h-1zM309 245h1v4h-1zM309 309h1v4h-1zM309 61h1v4h-1zM309 509h1v4h-1zM309 476h1v5h-1zM309 525h1v1h-1zM309 445h1v4h-1zM309 461h1v4h-1zM309 365h1v4h-1zM309 149h1v4h-1zM309 429h1v4h-1zM309 493h1v4h-1zM309 117h1v4h-1zM309 179h2v1h-2zM310 328h1v1h-1zM310 30h1v1h-1zM310 476h1v1h-1zM311 526h2v1h-2zM311 228h2v1h-2zM311 80h2v1h-2zM311 377h2v1h-2zM313 427h2v1h-2zM313 129h2v1h-2zM313 278h2v1h-2zM315 328h2v1h-2zM315 30h2v1h-2zM315 476h2v1h-2zM315 179h2v1h-2zM317 526h2v1h-2zM317 228h2v1h-2zM317 80h2v1h-2zM317 377h2v1h-2zM319 427h2v1h-2zM319 129h2v1h-2zM319 278h2v1h-2zM321 328h2v1h-2zM321 30h2v1h-2zM321 476h2v1h-2zM321 179h2v1h-2zM323 526h2v1h-2zM323 228h2v1h-2zM323 80h2v1h-2zM323 377h2v1h-2zM325 427h2v1h-2zM325 129h2v1h-2zM325 278h2v1h-2zM327 328h2v1h-2zM327 30h2v1h-2zM327 476h2v1h-2zM327 179h2v1h-2zM329 526h2v1h-2zM329 228h2v1h-2zM329 80h2v1h-2zM329 377h2v1h-2zM331 427h2v1h-2zM331 129h2v1h-2zM331 278h2v1h-2zM333 328h2v1h-2zM333 30h2v1h-2zM333 476h2v1h-2zM333 179h2v1h-2zM335 526h2v1h-2zM335 228h2v1h-2zM335 80h2v1h-2zM335 377h2v1h-2zM337 427h2v1h-2zM337 129h2v1h-2zM337 278h2v1h-2zM339 328h2v1h-2zM339 30h2v1h-2zM339 476h2v1h-2zM339 179h2v1h-2zM341 526h2v1h-2zM341 228h2v1h-2zM341 80h2v1h-2zM341 377h2v1h-2zM343 427h2v1h-2zM343 129h2v1h-2zM343 278h2v1h-2zM345 328h2v1h-2zM345 30h2v1h-2zM345 476h2v1h-2zM345 179h2v1h-2zM347 526h2v1h-2zM347 228h2v1h-2zM347 80h2v1h-2zM347 377h2v1h-2zM349 485h1v4h-1zM349 453h1v4h-1zM349 301h1v4h-1zM349 517h1v4h-1zM349 269h1v4h-1zM349 77h1v4h-1zM349 141h1v4h-1zM349 333h1v4h-1zM349 173h1v4h-1zM349 237h1v4h-1zM349 397h1v4h-1zM349 357h1v4h-1zM349 205h1v4h-1zM349 421h1v4h-1zM349 477h1v4h-1zM349 197h1v4h-1zM349 45h1v4h-1zM349 109h1v4h-1zM349 261h1v4h-1zM349 293h1v4h-1zM349 30h1v3h-1zM349 325h1v4h-1zM349 389h1v4h-1zM349 381h1v4h-1zM349 101h1v4h-1zM349 165h1v4h-1zM349 229h1v4h-1zM349 125h1v5h-1zM349 133h1v4h-1zM349 69h1v4h-1zM349 53h1v4h-1zM349 213h1v4h-1zM349 285h1v4h-1zM349 349h1v4h-1zM349 413h1v4h-1zM349 501h1v4h-1zM349 373h1v4h-1zM349 221h1v4h-1zM349 437h1v4h-1zM349 469h1v4h-1zM349 189h1v4h-1zM349 37h1v4h-1zM349 253h1v4h-1zM349 317h1v4h-1zM349 93h1v4h-1zM349 157h1v4h-1zM349 85h1v4h-1zM349 277h1v4h-1zM349 341h1v4h-1zM349 405h1v4h-1zM349 181h1v4h-1zM349 245h1v4h-1zM349 309h1v4h-1zM349 61h1v4h-1zM349 509h1v4h-1zM349 525h1v1h-1zM349 445h1v4h-1zM349 461h1v4h-1zM349 365h1v4h-1zM349 149h1v4h-1zM349 429h1v4h-1zM349 493h1v4h-1zM349 117h1v4h-1zM349 427h2v1h-2zM350 129h1v1h-1zM350 278h1v1h-1zM351 328h2v1h-2zM351 30h2v1h-2zM351 476h2v1h-2zM351 179h2v1h-2zM353 526h2v1h-2zM353 228h2v1h-2zM353 80h2v1h-2zM353 377h2v1h-2zM355 427h2v1h-2zM355 129h2v1h-2zM355 278h2v1h-2zM357 328h2v1h-2zM357 30h2v1h-2zM357 476h2v1h-2zM357 179h2v1h-2zM359 526h2v1h-2zM359 228h2v1h-2zM359 80h2v1h-2zM359 377h2v1h-2zM361 427h2v1h-2zM361 129h2v1h-2zM361 278h2v1h-2zM363 328h2v1h-2zM363 30h2v1h-2zM363 476h2v1h-2zM363 179h2v1h-2zM365 526h2v1h-2zM365 228h2v1h-2zM365 80h2v1h-2zM365 377h2v1h-2zM367 427h2v1h-2zM367 129h2v1h-2zM367 278h2v1h-2zM369 328h2v1h-2zM369 30h2v1h-2zM369 476h2v1h-2zM369 179h2v1h-2zM371 526h2v1h-2zM371 228h2v1h-2zM371 80h2v1h-2zM371 377h2v1h-2zM373 427h2v1h-2zM373 129h2v1h-2zM373 278h2v1h-2zM375 328h2v1h-2zM375 30h2v1h-2zM375 476h2v1h-2zM375 179h2v1h-2zM377 526h2v1h-2zM377 228h2v1h-2zM377 80h2v1h-2zM377 377h2v1h-2zM379 427h2v1h-2zM379 129h2v1h-2zM379 278h2v1h-2zM381 328h2v1h-2zM381 30h2v1h-2zM381 476h2v1h-2zM381 179h2v1h-2zM383 526h2v1h-2zM383 228h2v1h-2zM383 80h2v1h-2zM383 377h2v1h-2zM385 427h2v1h-2zM385 129h2v1h-2zM385 278h2v1h-2zM387 328h2v1h-2zM387 30h2v1h-2zM387 476h2v1h-2zM387 179h2v1h-2zM389 485h1v4h-1zM389 453h1v4h-1zM389 301h1v4h-1zM389 517h1v4h-1zM389 269h1v4h-1zM389 77h1v4h-1zM389 141h1v4h-1zM389 333h1v4h-1zM389 173h1v4h-1zM389 237h1v4h-1zM389 397h1v4h-1zM389 357h1v4h-1zM389 205h1v4h-1zM389 421h1v4h-1zM389 477h1v4h-1zM389 197h1v4h-1zM389 45h1v4h-1zM389 109h1v4h-1zM389 261h1v4h-1zM389 293h1v4h-1zM389 30h1v3h-1zM389 325h1v4h-1zM389 373h1v5h-1zM389 389h1v4h-1zM389 381h1v4h-1zM389 101h1v4h-1zM389 165h1v4h-1zM389 445h1v4h-1zM389 285h1v4h-1zM389 133h1v4h-1zM389 69h1v4h-1zM389 53h1v4h-1zM389 213h1v4h-1zM389 349h1v4h-1zM389 413h1v4h-1zM389 525h1v2h-1zM389 437h1v4h-1zM389 221h1v4h-1zM389 501h1v4h-1zM389 469h1v4h-1zM389 189h1v4h-1zM389 37h1v4h-1zM389 253h1v4h-1zM389 317h1v4h-1zM389 93h1v4h-1zM389 157h1v4h-1zM389 85h1v4h-1zM389 277h1v4h-1zM389 125h1v4h-1zM389 341h1v4h-1zM389 228h1v5h-1zM389 181h1v4h-1zM389 245h1v4h-1zM389 309h1v4h-1zM389 405h1v4h-1zM389 61h1v4h-1zM389 509h1v4h-1zM389 461h1v4h-1zM389 365h1v4h-1zM389 149h1v4h-1zM389 429h1v4h-1zM389 493h1v4h-1zM389 117h1v4h-1zM390 526h1v1h-1zM390 228h1v1h-1zM390 80h1v1h-1zM390 377h1v1h-1zM391 427h2v1h-2zM391 129h2v1h-2zM391 278h2v1h-2zM393 328h2v1h-2zM393 30h2v1h-2zM393 476h2v1h-2zM393 179h2v1h-2zM395 526h2v1h-2zM395 228h2v1h-2zM395 80h2v1h-2zM395 377h2v1h-2zM397 427h2v1h-2zM397 129h2v1h-2zM397 278h2v1h-2zM399 328h2v1h-2zM399 30h2v1h-2zM399 476h2v1h-2zM399 179h2v1h-2zM401 526h2v1h-2zM401 228h2v1h-2zM401 80h2v1h-2zM401 377h2v1h-2zM403 427h2v1h-2zM403 129h2v1h-2zM403 278h2v1h-2zM405 328h2v1h-2zM405 30h2v1h-2zM405 476h2v1h-2zM405 179h2v1h-2zM407 526h2v1h-2zM407 228h2v1h-2zM407 80h2v1h-2zM407 377h2v1h-2zM409 427h2v1h-2zM409 129h2v1h-2zM409 278h2v1h-2zM411 328h2v1h-2zM411 30h2v1h-2zM411 476h2v1h-2zM411 179h2v1h-2zM413 526h2v1h-2zM413 228h2v1h-2zM413 80h2v1h-2zM413 377h2v1h-2zM415 427h2v1h-2zM415 129h2v1h-2zM415 278h2v1h-2zM417 328h2v1h-2zM417 30h2v1h-2zM417 476h2v1h-2zM417 179h2v1h-2zM419 526h2v1h-2zM419 228h2v1h-2zM419 80h2v1h-2zM419 377h2v1h-2zM421 427h2v1h-2zM421 129h2v1h-2zM421 278h2v1h-2zM423 328h2v1h-2zM423 30h2v1h-2zM423 476h2v1h-2zM423 179h2v1h-2zM425 526h2v1h-2zM425 228h2v1h-2zM425 80h2v1h-2zM425 377h2v1h-2zM427 129h1v1h-1zM427 278h1v1h-1zM427 427h2v1h-2zM428 485h1v4h-1zM428 453h1v4h-1zM428 301h1v4h-1zM428 517h1v4h-1zM428 269h1v4h-1zM428 77h1v4h-1zM428 141h1v4h-1zM428 333h1v4h-1zM428 173h1v4h-1zM428 237h1v4h-1zM428 397h1v4h-1zM428 357h1v4h-1zM428 205h1v4h-1zM428 421h1v4h-1zM428 477h1v4h-1zM428 197h1v4h-1zM428 45h1v4h-1zM428 109h1v4h-1zM428 261h1v4h-1zM428 293h1v4h-1zM428 30h1v3h-1zM428 325h1v4h-1zM428 389h1v4h-1zM428 381h1v4h-1zM428 101h1v4h-1zM428 165h1v4h-1zM428 229h1v4h-1zM428 125h1v5h-1zM428 133h1v4h-1zM428 69h1v4h-1zM428 53h1v4h-1zM428 213h1v4h-1zM428 285h1v4h-1zM428 349h1v4h-1zM428 413h1v4h-1zM428 501h1v4h-1zM428 373h1v4h-1zM428 221h1v4h-1zM428 437h1v4h-1zM428 469h1v4h-1zM428 189h1v4h-1zM428 37h1v4h-1zM428 253h1v4h-1zM428 317h1v4h-1zM428 93h1v4h-1zM428 157h1v4h-1zM428 85h1v4h-1zM428 277h1v4h-1zM428 341h1v4h-1zM428 405h1v4h-1zM428 181h1v4h-1zM428 245h1v4h-1zM428 309h1v4h-1zM428 61h1v4h-1zM428 509h1v4h-1zM428 525h1v1h-1zM428 445h1v4h-1zM428 461h1v4h-1zM428 365h1v4h-1zM428 149h1v4h-1zM428 429h1v4h-1zM428 493h1v4h-1zM428 117h1v4h-1zM429 328h2v1h-2zM429 30h2v1h-2zM429 476h2v1h-2zM429 179h2v1h-2zM431 526h2v1h-2zM431 228h2v1h-2zM431 80h2v1h-2zM431 377h2v1h-2zM433 427h2v1h-2zM433 129h2v1h-2zM433 278h2v1h-2zM435 328h2v1h-2zM435 30h2v1h-2zM435 476h2v1h-2zM435 179h2v1h-2zM437 526h2v1h-2zM437 228h2v1h-2zM437 80h2v1h-2zM437 377h2v1h-2zM439 427h2v1h-2zM439 129h2v1h-2zM439 278h2v1h-2zM441 328h2v1h-2zM441 30h2v1h-2zM441 476h2v1h-2zM441 179h2v1h-2zM443 526h2v1h-2zM443 228h2v1h-2zM443 80h2v1h-2zM443 377h2v1h-2zM445 427h2v1h-2zM445 129h2v1h-2zM445 278h2v1h-2zM447 328h2v1h-2zM447 30h2v1h-2zM447 476h2v1h-2zM447 179h2v1h-2zM449 526h2v1h-2zM449 228h2v1h-2zM449 80h2v1h-2zM449 377h2v1h-2zM451 427h2v1h-2zM451 129h2v1h-2zM451 278h2v1h-2zM453 328h2v1h-2zM453 30h2v1h-2zM453 476h2v1h-2zM453 179h2v1h-2zM455 526h2v1h-2zM455 228h2v1h-2zM455 80h2v1h-2zM455 377h2v1h-2zM457 427h2v1h-2zM457 129h2v1h-2zM457 278h2v1h-2zM459 328h2v1h-2zM459 30h2v1h-2zM459 476h2v1h-2zM459 179h2v1h-2zM461 526h2v1h-2zM461 228h2v1h-2zM461 80h2v1h-2zM461 377h2v1h-2zM463 427h2v1h-2zM463 129h2v1h-2zM463 278h2v1h-2zM465 328h2v1h-2zM465 30h2v1h-2zM465 476h2v1h-2zM465 179h2v1h-2zM467 485h1v4h-1zM467 453h1v4h-1zM467 301h1v4h-1zM467 517h1v4h-1zM467 269h1v4h-1zM467 77h1v4h-1zM467 141h1v4h-1zM467 333h1v4h-1zM467 173h1v4h-1zM467 237h1v4h-1zM467 397h1v4h-1zM467 357h1v4h-1zM467 205h1v4h-1zM467 421h1v4h-1zM467 477h1v4h-1zM467 197h1v4h-1zM467 45h1v4h-1zM467 109h1v4h-1zM467 261h1v4h-1zM467 293h1v4h-1zM467 30h1v3h-1zM467 325h1v4h-1zM467 373h1v5h-1zM467 389h1v4h-1zM467 381h1v4h-1zM467 101h1v4h-1zM467 165h1v4h-1zM467 445h1v4h-1zM467 285h1v4h-1zM467 133h1v4h-1zM467 69h1v4h-1zM467 53h1v4h-1zM467 213h1v4h-1zM467 349h1v4h-1zM467 413h1v4h-1zM467 525h1v2h-1zM467 437h1v4h-1zM467 221h1v4h-1zM467 501h1v4h-1zM467 469h1v4h-1zM467 189h1v4h-1zM467 37h1v4h-1zM467 253h1v4h-1zM467 317h1v4h-1zM467 93h1v4h-1zM467 157h1v4h-1zM467 85h1v4h-1zM467 277h1v4h-1zM467 125h1v4h-1zM467 341h1v4h-1zM467 228h1v5h-1zM467 181h1v4h-1zM467 245h1v4h-1zM467 309h1v4h-1zM467 405h1v4h-1zM467 61h1v4h-1zM467 509h1v4h-1zM467 461h1v4h-1zM467 365h1v4h-1zM467 149h1v4h-1zM467 429h1v4h-1zM467 493h1v4h-1zM467 117h1v4h-1zM468 526h1v1h-1zM468 228h1v1h-1zM468 80h1v1h-1zM468 377h1v1h-1zM469 427h2v1h-2zM469 129h2v1h-2zM469 278h2v1h-2zM471 328h2v1h-2zM471 30h2v1h-2zM471 476h2v1h-2zM471 179h2v1h-2zM473 526h2v1h-2zM473 228h2v1h-2zM473 80h2v1h-2zM473 377h2v1h-2zM475 427h2v1h-2zM475 129h2v1h-2zM475 278h2v1h-2zM477 328h2v1h-2zM477 30h2v1h-2zM477 476h2v1h-2zM477 179h2v1h-2zM479 526h2v1h-2zM479 228h2v1h-2zM479 80h2v1h-2zM479 377h2v1h-2zM481 427h2v1h-2zM481 129h2v1h-2zM481 278h2v1h-2zM483 328h2v1h-2zM483 30h2v1h-2zM483 476h2v1h-2zM483 179h2v1h-2zM485 526h2v1h-2zM485 228h2v1h-2zM485 80h2v1h-2zM485 377h2v1h-2zM487 427h2v1h-2zM487 129h2v1h-2zM487 278h2v1h-2zM489 328h2v1h-2zM489 30h2v1h-2zM489 476h2v1h-2zM489 179h2v1h-2zM491 526h2v1h-2zM491 228h2v1h-2zM491 80h2v1h-2zM491 377h2v1h-2zM493 427h2v1h-2zM493 129h2v1h-2zM493 278h2v1h-2zM495 328h2v1h-2zM495 30h2v1h-2zM495 476h2v1h-2zM495 179h2v1h-2zM497 526h2v1h-2zM497 228h2v1h-2zM497 80h2v1h-2zM497 377h2v1h-2zM499 427h2v1h-2zM499 129h2v1h-2zM499 278h2v1h-2zM501 328h2v1h-2zM501 30h2v1h-2zM501 476h2v1h-2zM501 179h2v1h-2zM503 526h2v1h-2zM503 228h2v1h-2zM503 80h2v1h-2zM503 377h2v1h-2zM505 427h2v1h-2zM505 129h2v1h-2zM505 278h2v1h-2zM507 453h1v4h-1zM507 301h1v4h-1zM507 517h1v4h-1zM507 269h1v4h-1zM507 77h1v4h-1zM507 141h1v4h-1zM507 333h1v4h-1zM507 173h1v4h-1zM507 237h1v4h-1zM507 397h1v4h-1zM507 357h1v4h-1zM507 205h1v4h-1zM507 421h1v4h-1zM507 485h1v4h-1zM507 197h1v4h-1zM507 45h1v4h-1zM507 109h1v4h-1zM507 261h1v4h-1zM507 293h1v4h-1zM507 30h1v3h-1zM507 325h1v4h-1zM507 389h1v4h-1zM507 381h1v4h-1zM507 101h1v4h-1zM507 165h1v4h-1zM507 229h1v4h-1zM507 285h1v4h-1zM507 133h1v4h-1zM507 69h1v4h-1zM507 53h1v4h-1zM507 213h1v4h-1zM507 349h1v4h-1zM507 413h1v4h-1zM507 501h1v4h-1zM507 373h1v4h-1zM507 221h1v4h-1zM507 437h1v4h-1zM507 469h1v4h-1zM507 189h1v4h-1zM507 37h1v4h-1zM507 253h1v4h-1zM507 317h1v4h-1zM507 93h1v4h-1zM507 157h1v4h-1zM507 85h1v4h-1zM507 277h1v4h-1zM507 125h1v4h-1zM507 341h1v4h-1zM507 405h1v4h-1zM507 181h1v4h-1zM507 245h1v4h-1zM507 309h1v4h-1zM507 61h1v4h-1zM507 509h1v4h-1zM507 476h1v5h-1zM507 525h1v1h-1zM507 445h1v4h-1zM507 461h1v4h-1zM507 365h1v4h-1zM507 149h1v4h-1zM507 429h1v4h-1zM507 493h1v4h-1zM507 117h1v4h-1zM507 179h2v1h-2zM508 328h1v1h-1zM508 30h1v1h-1zM508 476h1v1h-1zM509 526h2v1h-2zM509 228h2v1h-2zM509 80h2v1h-2zM509 377h2v1h-2zM511 427h2v1h-2zM511 129h2v1h-2zM511 278h2v1h-2zM513 328h2v1h-2zM513 30h2v1h-2zM513 476h2v1h-2zM513 179h2v1h-2zM515 526h2v1h-2zM515 228h2v1h-2zM515 80h2v1h-2zM515 377h2v1h-2zM517 427h2v1h-2zM517 129h2v1h-2zM517 278h2v1h-2zM519 328h2v1h-2zM519 30h2v1h-2zM519 476h2v1h-2zM519 179h2v1h-2zM521 526h2v1h-2zM521 228h2v1h-2zM521 80h2v1h-2zM521 377h2v1h-2zM523 427h2v1h-2zM523 129h2v1h-2zM523 278h2v1h-2zM525 328h2v1h-2zM525 30h2v1h-2zM525 476h2v1h-2zM525 179h2v1h-2zM527 526h2v1h-2zM527 228h2v1h-2zM527 80h2v1h-2zM527 377h2v1h-2zM529 427h2v1h-2zM529 129h2v1h-2zM529 278h2v1h-2zM531 328h2v1h-2zM531 30h2v1h-2zM531 476h2v1h-2zM531 179h2v1h-2zM533 526h2v1h-2zM533 228h2v1h-2zM533 80h2v1h-2zM533 377h2v1h-2zM535 427h2v1h-2zM535 129h2v1h-2zM535 278h2v1h-2zM537 328h2v1h-2zM537 30h2v1h-2zM537 476h2v1h-2zM537 179h2v1h-2zM539 526h2v1h-2zM539 228h2v1h-2zM539 80h2v1h-2zM539 377h2v1h-2zM541 427h2v1h-2zM541 129h2v1h-2zM541 278h2v1h-2zM543 328h2v1h-2zM543 30h2v1h-2zM543 476h2v1h-2zM543 179h2v1h-2zM545 526h1v1h-1zM545 228h1v1h-1zM545 80h1v1h-1zM545 377h1v1h-1zM546 485h1v4h-1zM546 453h1v4h-1zM546 301h1v4h-1zM546 517h1v4h-1zM546 269h1v4h-1zM546 77h1v4h-1zM546 141h1v4h-1zM546 333h1v4h-1zM546 173h1v4h-1zM546 237h1v4h-1zM546 397h1v4h-1zM546 357h1v4h-1zM546 205h1v4h-1zM546 421h1v4h-1zM546 477h1v4h-1zM546 197h1v4h-1zM546 45h1v4h-1zM546 109h1v4h-1zM546 261h1v4h-1zM546 293h1v4h-1zM546 30h1v3h-1zM546 325h1v4h-1zM546 373h1v5h-1zM546 389h1v4h-1zM546 381h1v4h-1zM546 101h1v4h-1zM546 165h1v4h-1zM546 445h1v4h-1zM546 285h1v4h-1zM546 133h1v4h-1zM546 69h1v4h-1zM546 53h1v4h-1zM546 213h1v4h-1zM546 349h1v4h-1zM546 413h1v4h-1zM546 525h1v2h-1zM546 437h1v4h-1zM546 221h1v4h-1zM546 501h1v4h-1zM546 469h1v4h-1zM546 189h1v4h-1zM546 37h1v4h-1zM546 253h1v4h-1zM546 317h1v4h-1zM546 93h1v4h-1zM546 157h1v4h-1zM546 85h1v4h-1zM546 277h1v4h-1zM546 125h1v4h-1zM546 341h1v4h-1zM546 228h1v5h-1zM546 181h1v4h-1zM546 245h1v4h-1zM546 309h1v4h-1zM546 405h1v4h-1zM546 61h1v4h-1zM546 509h1v4h-1zM546 461h1v4h-1zM546 365h1v4h-1zM546 149h1v4h-1zM546 429h1v4h-1zM546 493h1v4h-1zM546 117h1v4h-1zM547 427h2v1h-2zM547 129h2v1h-2zM547 278h2v1h-2zM549 328h2v1h-2zM549 30h2v1h-2zM549 476h2v1h-2zM549 179h2v1h-2zM551 526h2v1h-2zM551 228h2v1h-2zM551 80h2v1h-2zM551 377h2v1h-2zM553 427h2v1h-2zM553 129h2v1h-2zM553 278h2v1h-2zM555 328h2v1h-2zM555 30h2v1h-2zM555 476h2v1h-2zM555 179h2v1h-2zM557 526h2v1h-2zM557 228h2v1h-2zM557 80h2v1h-2zM557 377h2v1h-2zM559 427h2v1h-2zM559 129h2v1h-2zM559 278h2v1h-2zM561 328h2v1h-2zM561 30h2v1h-2zM561 476h2v1h-2zM561 179h2v1h-2zM563 526h2v1h-2zM563 228h2v1h-2zM563 80h2v1h-2zM563 377h2v1h-2zM565 427h2v1h-2zM565 129h2v1h-2zM565 278h2v1h-2zM567 328h2v1h-2zM567 30h2v1h-2zM567 476h2v1h-2zM567 179h2v1h-2zM569 526h2v1h-2zM569 228h2v1h-2zM569 80h2v1h-2zM569 377h2v1h-2zM571 427h2v1h-2zM571 129h2v1h-2zM571 278h2v1h-2zM573 328h2v1h-2zM573 30h2v1h-2zM573 476h2v1h-2zM573 179h2v1h-2zM575 526h2v1h-2zM575 228h2v1h-2zM575 80h2v1h-2zM575 377h2v1h-2zM577 427h2v1h-2zM577 129h2v1h-2zM577 278h2v1h-2zM579 328h2v1h-2zM579 30h2v1h-2zM579 476h2v1h-2zM579 179h2v1h-2zM581 526h2v1h-2zM581 228h2v1h-2zM581 80h2v1h-2zM581 377h2v1h-2zM583 427h2v1h-2zM583 129h2v1h-2zM583 278h2v1h-2zM585 328h1v1h-1zM585 30h1v1h-1zM585 476h1v1h-1zM585 179h2v1h-2zM586 453h1v4h-1zM586 301h1v4h-1zM586 517h1v4h-1zM586 269h1v4h-1zM586 77h1v4h-1zM586 141h1v4h-1zM586 333h1v4h-1zM586 173h1v4h-1zM586 237h1v4h-1zM586 397h1v4h-1zM586 357h1v4h-1zM586 205h1v4h-1zM586 421h1v4h-1zM586 485h1v4h-1zM586 197h1v4h-1zM586 45h1v4h-1zM586 109h1v4h-1zM586 261h1v4h-1zM586 293h1v4h-1zM586 30h1v3h-1zM586 325h1v4h-1zM586 389h1v4h-1zM586 381h1v4h-1zM586 101h1v4h-1zM586 165h1v4h-1zM586 229h1v4h-1zM586 285h1v4h-1zM586 133h1v4h-1zM586 69h1v4h-1zM586 53h1v4h-1zM586 213h1v4h-1zM586 349h1v4h-1zM586 413h1v4h-1zM586 501h1v4h-1zM586 373h1v4h-1zM586 221h1v4h-1zM586 437h1v4h-1zM586 469h1v4h-1zM586 189h1v4h-1zM586 37h1v4h-1zM586 253h1v4h-1zM586 317h1v4h-1zM586 93h1v4h-1zM586 157h1v4h-1zM586 85h1v4h-1zM586 277h1v4h-1zM586 125h1v4h-1zM586 341h1v4h-1zM586 405h1v4h-1zM586 181h1v4h-1zM586 245h1v4h-1zM586 309h1v4h-1zM586 61h1v4h-1zM586 509h1v4h-1zM586 476h1v5h-1zM586 525h1v1h-1zM586 445h1v4h-1zM586 461h1v4h-1zM586 365h1v4h-1zM586 149h1v4h-1zM586 429h1v4h-1zM586 493h1v4h-1zM586 117h1v4h-1zM587 526h2v1h-2zM587 228h2v1h-2zM587 80h2v1h-2zM587 377h2v1h-2zM589 427h2v1h-2zM589 129h2v1h-2zM589 278h2v1h-2zM591 328h2v1h-2zM591 30h2v1h-2zM591 476h2v1h-2zM591 179h2v1h-2zM593 526h2v1h-2zM593 228h2v1h-2zM593 80h2v1h-2zM593 377h2v1h-2zM595 427h2v1h-2zM595 129h2v1h-2zM595 278h2v1h-2zM597 328h2v1h-2zM597 30h2v1h-2zM597 476h2v1h-2zM597 179h2v1h-2zM599 526h2v1h-2zM599 228h2v1h-2zM599 80h2v1h-2zM599 377h2v1h-2zM601 427h2v1h-2zM601 129h2v1h-2zM601 278h2v1h-2zM603 328h2v1h-2zM603 30h2v1h-2zM603 476h2v1h-2zM603 179h2v1h-2zM605 526h2v1h-2zM605 228h2v1h-2zM605 80h2v1h-2zM605 377h2v1h-2zM607 427h2v1h-2zM607 129h2v1h-2zM607 278h2v1h-2zM609 328h2v1h-2zM609 30h2v1h-2zM609 476h2v1h-2zM609 179h2v1h-2zM611 526h2v1h-2zM611 228h2v1h-2zM611 80h2v1h-2zM611 377h2v1h-2zM613 427h2v1h-2zM613 129h2v1h-2zM613 278h2v1h-2zM615 328h2v1h-2zM615 30h2v1h-2zM615 476h2v1h-2zM615 179h2v1h-2zM617 526h2v1h-2zM617 228h2v1h-2zM617 80h2v1h-2zM617 377h2v1h-2zM619 427h2v1h-2zM619 129h2v1h-2zM619 278h2v1h-2zM621 328h2v1h-2zM621 30h2v1h-2zM621 476h2v1h-2zM621 179h2v1h-2zM623 526h2v1h-2zM623 228h2v1h-2zM623 80h2v1h-2zM623 377h2v1h-2zM625 129h1v1h-1zM625 278h1v1h-1zM625 427h2v1h-2zM626 485h1v4h-1zM626 453h1v4h-1zM626 301h1v4h-1zM626 517h1v4h-1zM626 269h1v4h-1zM626 77h1v4h-1zM626 141h1v4h-1zM626 333h1v4h-1zM626 173h1v4h-1zM626 237h1v4h-1zM626 397h1v4h-1zM626 357h1v4h-1zM626 205h1v4h-1zM626 421h1v4h-1zM626 477h1v4h-1zM626 197h1v4h-1zM626 45h1v4h-1zM626 109h1v4h-1zM626 261h1v4h-1zM626 293h1v4h-1zM626 30h1v3h-1zM626 325h1v4h-1zM626 389h1v4h-1zM626 381h1v4h-1zM626 101h1v4h-1zM626 165h1v4h-1zM626 229h1v4h-1zM626 125h1v5h-1zM626 133h1v4h-1zM626 69h1v4h-1zM626 53h1v4h-1zM626 213h1v4h-1zM626 285h1v4h-1zM626 349h1v4h-1zM626 413h1v4h-1zM626 501h1v4h-1zM626 373h1v4h-1zM626 221h1v4h-1zM626 437h1v4h-1zM626 469h1v4h-1zM626 189h1v4h-1zM626 37h1v4h-1zM626 253h1v4h-1zM626 317h1v4h-1zM626 93h1v4h-1zM626 157h1v4h-1zM626 85h1v4h-1zM626 277h1v4h-1zM626 341h1v4h-1zM626 405h1v4h-1zM626 181h1v4h-1zM626 245h1v4h-1zM626 309h1v4h-1zM626 61h1v4h-1zM626 509h1v4h-1zM626 525h1v1h-1zM626 445h1v4h-1zM626 461h1v4h-1zM626 365h1v4h-1zM626 149h1v4h-1zM626 429h1v4h-1zM626 493h1v4h-1zM626 117h1v4h-1zM627 328h2v1h-2zM627 30h2v1h-2zM627 476h2v1h-2zM627 179h2v1h-2zM629 526h2v1h-2zM629 228h2v1h-2zM629 80h2v1h-2zM629 377h2v1h-2zM631 427h2v1h-2zM631 129h2v1h-2zM631 278h2v1h-2zM633 328h2v1h-2zM633 30h2v1h-2zM633 476h2v1h-2zM633 179h2v1h-2zM635 526h2v1h-2zM635 228h2v1h-2zM635 80h2v1h-2zM635 377h2v1h-2zM637 427h2v1h-2zM637 129h2v1h-2zM637 278h2v1h-2zM639 328h2v1h-2zM639 30h2v1h-2zM639 476h2v1h-2zM639 179h2v1h-2zM641 526h2v1h-2zM641 228h2v1h-2zM641 80h2v1h-2zM641 377h2v1h-2zM643 427h2v1h-2zM643 129h2v1h-2zM643 278h2v1h-2zM645 328h2v1h-2zM645 30h2v1h-2zM645 476h2v1h-2zM645 179h2v1h-2zM647 526h2v1h-2zM647 228h2v1h-2zM647 80h2v1h-2zM647 377h2v1h-2zM649 427h2v1h-2zM649 129h2v1h-2zM649 278h2v1h-2zM651 328h2v1h-2zM651 30h2v1h-2zM651 476h2v1h-2zM651 179h2v1h-2zM653 526h2v1h-2zM653 228h2v1h-2zM653 80h2v1h-2zM653 377h2v1h-2zM655 427h2v1h-2zM655 129h2v1h-2zM655 278h2v1h-2zM657 328h2v1h-2zM657 30h2v1h-2zM657 476h2v1h-2zM657 179h2v1h-2zM659 526h2v1h-2zM659 228h2v1h-2zM659 80h2v1h-2zM659 377h2v1h-2zM661 427h2v1h-2zM661 129h2v1h-2zM661 278h2v1h-2zM663 328h2v1h-2zM663 30h2v1h-2zM663 476h2v1h-2zM663 179h2v1h-2zM665 485h1v4h-1zM665 453h1v4h-1zM665 301h1v4h-1zM665 517h1v4h-1zM665 269h1v4h-1zM665 77h1v4h-1zM665 141h1v4h-1zM665 333h1v4h-1zM665 173h1v4h-1zM665 237h1v4h-1zM665 397h1v4h-1zM665 357h1v4h-1zM665 205h1v4h-1zM665 421h1v4h-1zM665 477h1v4h-1zM665 197h1v4h-1zM665 45h1v4h-1zM665 109h1v4h-1zM665 261h1v4h-1zM665 293h1v4h-1zM665 30h1v3h-1zM665 325h1v4h-1zM665 373h1v5h-1zM665 389h1v4h-1zM665 381h1v4h-1zM665 101h1v4h-1zM665 165h1v4h-1zM665 445h1v4h-1zM665 285h1v4h-1zM665 133h1v4h-1zM665 69h1v4h-1zM665 53h1v4h-1zM665 213h1v4h-1zM665 349h1v4h-1zM665 413h1v4h-1zM665 525h1v2h-1zM665 437h1v4h-1zM665 221h1v4h-1zM665 501h1v4h-1zM665 469h1v4h-1zM665 189h1v4h-1zM665 37h1v4h-1zM665 253h1v4h-1zM665 317h1v4h-1zM665 93h1v4h-1zM665 157h1v4h-1zM665 85h1v4h-1zM665 277h1v4h-1zM665 125h1v4h-1zM665 341h1v4h-1zM665 228h1v5h-1zM665 181h1v4h-1zM665 245h1v4h-1zM665 309h1v4h-1zM665 405h1v4h-1zM665 61h1v4h-1zM665 509h1v4h-1zM665 461h1v4h-1zM665 365h1v4h-1zM665 149h1v4h-1zM665 429h1v4h-1zM665 493h1v4h-1zM665 117h1v4h-1zM666 526h1v1h-1zM666 228h1v1h-1zM666 80h1v1h-1zM666 377h1v1h-1zM667 427h2v1h-2zM667 129h2v1h-2zM667 278h2v1h-2zM669 328h2v1h-2zM669 30h2v1h-2zM669 476h2v1h-2zM669 179h2v1h-2zM671 526h2v1h-2zM671 228h2v1h-2zM671 80h2v1h-2zM671 377h2v1h-2zM673 427h2v1h-2zM673 129h2v1h-2zM673 278h2v1h-2zM675 328h2v1h-2zM675 30h2v1h-2zM675 476h2v1h-2zM675 179h2v1h-2zM677 526h2v1h-2zM677 228h2v1h-2zM677 80h2v1h-2zM677 377h2v1h-2zM679 427h2v1h-2zM679 129h2v1h-2zM679 278h2v1h-2zM681 328h2v1h-2zM681 30h2v1h-2zM681 476h2v1h-2zM681 179h2v1h-2zM683 526h2v1h-2zM683 228h2v1h-2zM683 80h2v1h-2zM683 377h2v1h-2zM685 427h2v1h-2zM685 129h2v1h-2zM685 278h2v1h-2zM687 328h2v1h-2zM687 30h2v1h-2zM687 476h2v1h-2zM687 179h2v1h-2zM689 526h2v1h-2zM689 228h2v1h-2zM689 80h2v1h-2zM689 377h2v1h-2zM691 427h2v1h-2zM691 129h2v1h-2zM691 278h2v1h-2zM693 328h2v1h-2zM693 30h2v1h-2zM693 476h2v1h-2zM693 179h2v1h-2zM695 526h2v1h-2zM695 228h2v1h-2zM695 80h2v1h-2zM695 377h2v1h-2zM697 427h2v1h-2zM697 129h2v1h-2zM697 278h2v1h-2zM699 328h2v1h-2zM699 30h2v1h-2zM699 476h2v1h-2zM699 179h2v1h-2zM701 526h2v1h-2zM701 228h2v1h-2zM701 80h2v1h-2zM701 377h2v1h-2zM703 427h2v1h-2zM703 129h2v1h-2zM703 278h2v1h-2zM705 453h1v4h-1zM705 301h1v4h-1zM705 517h1v4h-1zM705 269h1v4h-1zM705 77h1v4h-1zM705 141h1v4h-1zM705 333h1v4h-1zM705 173h1v4h-1zM705 237h1v4h-1zM705 397h1v4h-1zM705 357h1v4h-1zM705 205h1v4h-1zM705 421h1v4h-1zM705 485h1v4h-1zM705 197h1v4h-1zM705 45h1v4h-1zM705 109h1v4h-1zM705 261h1v4h-1zM705 293h1v4h-1zM705 30h1v3h-1zM705 325h1v4h-1zM705 389h1v4h-1zM705 381h1v4h-1zM705 101h1v4h-1zM705 165h1v4h-1zM705 229h1v4h-1zM705 285h1v4h-1zM705 133h1v4h-1zM705 69h1v4h-1zM705 53h1v4h-1zM705 213h1v4h-1zM705 349h1v4h-1zM705 413h1v4h-1zM705 501h1v4h-1zM705 373h1v4h-1zM705 221h1v4h-1zM705 437h1v4h-1zM705 469h1v4h-1zM705 189h1v4h-1zM705 37h1v4h-1zM705 253h1v4h-1zM705 317h1v4h-1zM705 93h1v4h-1zM705 157h1v4h-1zM705 85h1v4h-1zM705 277h1v4h-1zM705 125h1v4h-1zM705 341h1v4h-1zM705 405h1v4h-1zM705 181h1v4h-1zM705 245h1v4h-1zM705 309h1v4h-1zM705 61h1v4h-1zM705 509h1v4h-1zM705 476h1v5h-1zM705 525h1v1h-1zM705 445h1v4h-1zM705 461h1v4h-1zM705 365h1v4h-1zM705 149h1v4h-1zM705 429h1v4h-1zM705 493h1v4h-1zM705 117h1v4h-1zM705 179h2v1h-2zM706 328h1v1h-1zM706 30h1v1h-1zM706 476h1v1h-1zM707 526h2v1h-2zM707 228h2v1h-2zM707 80h2v1h-2zM707 377h2v1h-2zM709 427h2v1h-2zM709 129h2v1h-2zM709 278h2v1h-2zM711 328h2v1h-2zM711 30h2v1h-2zM711 476h2v1h-2zM711 179h2v1h-2zM713 526h2v1h-2zM713 228h2v1h-2zM713 80h2v1h-2zM713 377h2v1h-2zM715 427h2v1h-2zM715 129h2v1h-2zM715 278h2v1h-2zM717 328h2v1h-2zM717 30h2v1h-2zM717 476h2v1h-2zM717 179h2v1h-2zM719 526h2v1h-2zM719 228h2v1h-2zM719 80h2v1h-2zM719 377h2v1h-2zM721 427h2v1h-2zM721 129h2v1h-2zM721 278h2v1h-2zM723 328h2v1h-2zM723 30h2v1h-2zM723 476h2v1h-2zM723 179h2v1h-2zM725 526h2v1h-2zM725 228h2v1h-2zM725 80h2v1h-2zM725 377h2v1h-2zM727 427h2v1h-2zM727 129h2v1h-2zM727 278h2v1h-2zM729 328h2v1h-2zM729 30h2v1h-2zM729 476h2v1h-2zM729 179h2v1h-2zM731 526h2v1h-2zM731 228h2v1h-2zM731 80h2v1h-2zM731 377h2v1h-2zM733 427h2v1h-2zM733 129h2v1h-2zM733 278h2v1h-2zM735 328h2v1h-2zM735 30h2v1h-2zM735 476h2v1h-2zM735 179h2v1h-2zM737 526h2v1h-2zM737 228h2v1h-2zM737 80h2v1h-2zM737 377h2v1h-2zM739 427h2v1h-2zM739 129h2v1h-2zM739 278h2v1h-2zM741 328h2v1h-2zM741 30h2v1h-2zM741 476h2v1h-2zM741 179h2v1h-2zM743 526h2v1h-2zM743 228h2v1h-2zM743 80h2v1h-2zM743 377h2v1h-2zM745 129h1v1h-1zM745 278h1v1h-1zM745 427h2v1h-2zM746 485h1v4h-1zM746 453h1v4h-1zM746 301h1v4h-1zM746 517h1v4h-1zM746 269h1v4h-1zM746 77h1v4h-1zM746 141h1v4h-1zM746 333h1v4h-1zM746 173h1v4h-1zM746 237h1v4h-1zM746 397h1v4h-1zM746 357h1v4h-1zM746 205h1v4h-1zM746 421h1v4h-1zM746 477h1v4h-1zM746 197h1v4h-1zM746 45h1v4h-1zM746 109h1v4h-1zM746 261h1v4h-1zM746 293h1v4h-1zM746 30h1v3h-1zM746 325h1v4h-1zM746 389h1v4h-1zM746 381h1v4h-1zM746 101h1v4h-1zM746 165h1v4h-1zM746 229h1v4h-1zM746 125h1v5h-1zM746 133h1v4h-1zM746 69h1v4h-1zM746 53h1v4h-1zM746 213h1v4h-1zM746 285h1v4h-1zM746 349h1v4h-1zM746 413h1v4h-1zM746 501h1v4h-1zM746 373h1v4h-1zM746 221h1v4h-1zM746 437h1v4h-1zM746 469h1v4h-1zM746 189h1v4h-1zM746 37h1v4h-1zM746 253h1v4h-1zM746 317h1v4h-1zM746 93h1v4h-1zM746 157h1v4h-1zM746 85h1v4h-1zM746 277h1v4h-1zM746 341h1v4h-1zM746 405h1v4h-1zM746 181h1v4h-1zM746 245h1v4h-1zM746 309h1v4h-1zM746 61h1v4h-1zM746 509h1v4h-1zM746 525h1v1h-1zM746 445h1v4h-1zM746 461h1v4h-1zM746 365h1v4h-1zM746 149h1v4h-1zM746 429h1v4h-1zM746 493h1v4h-1zM746 117h1v4h-1zM747 328h2v1h-2zM747 30h2v1h-2zM747 476h2v1h-2zM747 179h2v1h-2zM749 526h2v1h-2zM749 228h2v1h-2zM749 80h2v1h-2zM749 377h2v1h-2zM751 427h2v1h-2zM751 129h2v1h-2zM751 278h2v1h-2zM753 328h2v1h-2zM753 30h2v1h-2zM753 476h2v1h-2zM753 179h2v1h-2zM755 526h2v1h-2zM755 228h2v1h-2zM755 80h2v1h-2zM755 377h2v1h-2zM757 427h2v1h-2zM757 129h2v1h-2zM757 278h2v1h-2zM759 328h2v1h-2zM759 30h2v1h-2zM759 476h2v1h-2zM759 179h2v1h-2zM761 526h2v1h-2zM761 228h2v1h-2zM761 80h2v1h-2zM761 377h2v1h-2zM763 427h2v1h-2zM763 129h2v1h-2zM763 278h2v1h-2zM765 328h2v1h-2zM765 30h2v1h-2zM765 476h2v1h-2zM765 179h2v1h-2zM767 526h2v1h-2zM767 228h2v1h-2zM767 80h2v1h-2zM767 377h2v1h-2zM769 427h2v1h-2zM769 129h2v1h-2zM769 278h2v1h-2zM771 328h2v1h-2zM771 30h2v1h-2zM771 476h2v1h-2zM771 179h2v1h-2zM773 526h2v1h-2zM773 228h2v1h-2zM773 80h2v1h-2zM773 377h2v1h-2zM775 427h2v1h-2zM775 129h2v1h-2zM775 278h2v1h-2zM777 328h2v1h-2zM777 30h2v1h-2zM777 476h2v1h-2zM777 179h2v1h-2zM779 526h2v1h-2zM779 228h2v1h-2zM779 80h2v1h-2zM779 377h2v1h-2zM781 427h2v1h-2zM781 129h2v1h-2zM781 278h2v1h-2zM783 328h2v1h-2zM783 30h2v1h-2zM783 476h2v1h-2zM783 179h2v1h-2zM785 485h1v4h-1zM785 453h1v4h-1zM785 301h1v4h-1zM785 517h1v4h-1zM785 269h1v4h-1zM785 77h1v4h-1zM785 141h1v4h-1zM785 333h1v4h-1zM785 173h1v4h-1zM785 237h1v4h-1zM785 397h1v4h-1zM785 357h1v4h-1zM785 205h1v4h-1zM785 421h1v4h-1zM785 477h1v4h-1zM785 197h1v4h-1zM785 45h1v4h-1zM785 109h1v4h-1zM785 261h1v4h-1zM785 293h1v4h-1zM785 30h1v3h-1zM785 325h1v4h-1zM785 373h1v5h-1zM785 389h1v4h-1zM785 381h1v4h-1zM785 101h1v4h-1zM785 165h1v4h-1zM785 445h1v4h-1zM785 285h1v4h-1zM785 133h1v4h-1zM785 69h1v4h-1zM785 53h1v4h-1zM785 213h1v4h-1zM785 349h1v4h-1zM785 413h1v4h-1zM785 525h1v2h-1zM785 437h1v4h-1zM785 221h1v4h-1zM785 501h1v4h-1zM785 469h1v4h-1zM785 189h1v4h-1zM785 37h1v4h-1zM785 253h1v4h-1zM785 317h1v4h-1zM785 93h1v4h-1zM785 157h1v4h-1zM785 85h1v4h-1zM785 277h1v4h-1zM785 125h1v4h-1zM785 341h1v4h-1zM785 228h1v5h-1zM785 181h1v4h-1zM785 245h1v4h-1zM785 309h1v4h-1zM785 405h1v4h-1zM785 61h1v4h-1zM785 509h1v4h-1zM785 461h1v4h-1zM785 365h1v4h-1zM785 149h1v4h-1zM785 429h1v4h-1zM785 493h1v4h-1zM785 117h1v4h-1zM786 526h1v1h-1zM786 228h1v1h-1zM786 80h1v1h-1zM786 377h1v1h-1zM787 427h2v1h-2zM787 129h2v1h-2zM787 278h2v1h-2zM789 328h2v1h-2zM789 30h2v1h-2zM789 476h2v1h-2zM789 179h2v1h-2zM791 526h2v1h-2zM791 228h2v1h-2zM791 80h2v1h-2zM791 377h2v1h-2zM793 427h2v1h-2zM793 129h2v1h-2zM793 278h2v1h-2zM795 328h2v1h-2zM795 30h2v1h-2zM795 476h2v1h-2zM795 179h2v1h-2zM797 526h2v1h-2zM797 228h2v1h-2zM797 80h2v1h-2zM797 377h2v1h-2zM799 427h2v1h-2zM799 129h2v1h-2zM799 278h2v1h-2zM801 328h2v1h-2zM801 30h2v1h-2zM801 476h2v1h-2zM801 179h2v1h-2zM803 526h2v1h-2zM803 228h2v1h-2zM803 80h2v1h-2zM803 377h2v1h-2zM805 427h2v1h-2zM805 129h2v1h-2zM805 278h2v1h-2zM807 328h2v1h-2zM807 30h2v1h-2zM807 476h2v1h-2zM807 179h2v1h-2zM809 526h2v1h-2zM809 228h2v1h-2zM809 80h2v1h-2zM809 377h2v1h-2zM811 427h2v1h-2zM811 129h2v1h-2zM811 278h2v1h-2zM813 328h2v1h-2zM813 30h2v1h-2zM813 476h2v1h-2zM813 179h2v1h-2zM815 526h2v1h-2zM815 228h2v1h-2zM815 80h2v1h-2zM815 377h2v1h-2zM817 427h2v1h-2zM817 129h2v1h-2zM817 278h2v1h-2zM819 328h2v1h-2zM819 30h2v1h-2zM819 476h2v1h-2zM819 179h2v1h-2zM821 526h2v1h-2zM821 228h2v1h-2zM821 80h2v1h-2zM821 377h2v1h-2zM823 427h2v1h-2zM823 129h2v1h-2zM823 278h2v1h-2zM825 328h1v1h-1zM825 30h1v1h-1zM825 476h1v1h-1zM825 179h2v1h-2zM826 453h1v4h-1zM826 301h1v4h-1zM826 517h1v4h-1zM826 269h1v4h-1zM826 77h1v4h-1zM826 141h1v4h-1zM826 333h1v4h-1zM826 173h1v4h-1zM826 237h1v4h-1zM826 397h1v4h-1zM826 357h1v4h-1zM826 205h1v4h-1zM826 421h1v4h-1zM826 485h1v4h-1zM826 197h1v4h-1zM826 45h1v4h-1zM826 109h1v4h-1zM826 261h1v4h-1zM826 293h1v4h-1zM826 30h1v3h-1zM826 325h1v4h-1zM826 389h1v4h-1zM826 381h1v4h-1zM826 101h1v4h-1zM826 165h1v4h-1zM826 229h1v4h-1zM826 285h1v4h-1zM826 133h1v4h-1zM826 69h1v4h-1zM826 53h1v4h-1zM826 213h1v4h-1zM826 349h1v4h-1zM826 413h1v4h-1zM826 501h1v4h-1zM826 373h1v4h-1zM826 221h1v4h-1zM826 437h1v4h-1zM826 469h1v4h-1zM826 189h1v4h-1zM826 37h1v4h-1zM826 253h1v4h-1zM826 317h1v4h-1zM826 93h1v4h-1zM826 157h1v4h-1zM826 85h1v4h-1zM826 277h1v4h-1zM826 125h1v4h-1zM826 341h1v4h-1zM826 405h1v4h-1zM826 181h1v4h-1zM826 245h1v4h-1zM826 309h1v4h-1zM826 61h1v4h-1zM826 509h1v4h-1zM826 476h1v5h-1zM826 525h1v1h-1zM826 445h1v4h-1zM826 461h1v4h-1zM826 365h1v4h-1zM826 149h1v4h-1zM826 429h1v4h-1zM826 493h1v4h-1zM826 117h1v4h-1zM827 526h2v1h-2zM827 228h2v1h-2zM827 80h2v1h-2zM827 377h2v1h-2zM829 427h2v1h-2zM829 129h2v1h-2zM829 278h2v1h-2zM831 328h2v1h-2zM831 30h2v1h-2zM831 476h2v1h-2zM831 179h2v1h-2zM833 526h2v1h-2zM833 228h2v1h-2zM833 80h2v1h-2zM833 377h2v1h-2zM835 427h2v1h-2zM835 129h2v1h-2zM835 278h2v1h-2zM837 328h2v1h-2zM837 30h2v1h-2zM837 476h2v1h-2zM837 179h2v1h-2zM839 526h2v1h-2zM839 228h2v1h-2zM839 80h2v1h-2zM839 377h2v1h-2zM841 427h2v1h-2zM841 129h2v1h-2zM841 278h2v1h-2zM843 328h2v1h-2zM843 30h2v1h-2zM843 476h2v1h-2zM843 179h2v1h-2zM845 526h2v1h-2zM845 228h2v1h-2zM845 80h2v1h-2zM845 377h2v1h-2zM847 427h2v1h-2zM847 129h2v1h-2zM847 278h2v1h-2zM849 328h2v1h-2zM849 30h2v1h-2zM849 476h2v1h-2zM849 179h2v1h-2zM851 526h2v1h-2zM851 228h2v1h-2zM851 80h2v1h-2zM851 377h2v1h-2zM853 427h2v1h-2zM853 129h2v1h-2zM853 278h2v1h-2zM855 328h2v1h-2zM855 30h2v1h-2zM855 476h2v1h-2zM855 179h2v1h-2zM857 526h2v1h-2zM857 228h2v1h-2zM857 80h2v1h-2zM857 377h2v1h-2zM859 427h2v1h-2zM859 129h2v1h-2zM859 278h2v1h-2zM861 328h2v1h-2zM861 30h2v1h-2zM861 476h2v1h-2zM861 179h2v1h-2zM863 526h2v1h-2zM863 228h2v1h-2zM863 80h2v1h-2zM863 377h2v1h-2zM865 485h1v4h-1zM865 453h1v4h-1zM865 301h1v4h-1zM865 517h1v4h-1zM865 269h1v4h-1zM865 77h1v4h-1zM865 141h1v4h-1zM865 333h1v4h-1zM865 173h1v4h-1zM865 237h1v4h-1zM865 397h1v4h-1zM865 357h1v4h-1zM865 205h1v4h-1zM865 421h1v4h-1zM865 477h1v4h-1zM865 197h1v4h-1zM865 45h1v4h-1zM865 109h1v4h-1zM865 261h1v4h-1zM865 293h1v4h-1zM865 30h1v3h-1zM865 325h1v4h-1zM865 389h1v4h-1zM865 381h1v4h-1zM865 101h1v4h-1zM865 165h1v4h-1zM865 229h1v4h-1zM865 125h1v5h-1zM865 133h1v4h-1zM865 69h1v4h-1zM865 53h1v4h-1zM865 213h1v4h-1zM865 285h1v4h-1zM865 349h1v4h-1zM865 413h1v4h-1zM865 501h1v4h-1zM865 373h1v4h-1zM865 221h1v4h-1zM865 437h1v4h-1zM865 469h1v4h-1zM865 189h1v4h-1zM865 37h1v4h-1zM865 253h1v4h-1zM865 317h1v4h-1zM865 93h1v4h-1zM865 157h1v4h-1zM865 85h1v4h-1zM865 277h1v4h-1zM865 341h1v4h-1zM865 405h1v4h-1zM865 181h1v4h-1zM865 245h1v4h-1zM865 309h1v4h-1zM865 61h1v4h-1zM865 509h1v4h-1zM865 525h1v1h-1zM865 445h1v4h-1zM865 461h1v4h-1zM865 365h1v4h-1zM865 149h1v4h-1zM865 429h1v4h-1zM865 493h1v4h-1zM865 117h1v4h-1zM865 427h2v1h-2zM866 129h1v1h-1zM866 278h1v1h-1zM867 328h2v1h-2zM867 30h2v1h-2zM867 476h2v1h-2zM867 179h2v1h-2zM869 526h2v1h-2zM869 228h2v1h-2zM869 80h2v1h-2zM869 377h2v1h-2zM871 427h2v1h-2zM871 129h2v1h-2zM871 278h2v1h-2zM873 328h2v1h-2zM873 30h2v1h-2zM873 476h2v1h-2zM873 179h2v1h-2zM875 526h2v1h-2zM875 228h2v1h-2zM875 80h2v1h-2zM875 377h2v1h-2zM877 427h2v1h-2zM877 129h2v1h-2zM877 278h2v1h-2zM879 328h2v1h-2zM879 30h2v1h-2zM879 476h2v1h-2zM879 179h2v1h-2zM881 526h2v1h-2zM881 228h2v1h-2zM881 80h2v1h-2zM881 377h2v1h-2zM883 427h2v1h-2zM883 129h2v1h-2zM883 278h2v1h-2zM885 328h2v1h-2zM885 30h2v1h-2zM885 476h2v1h-2zM885 179h2v1h-2zM887 526h2v1h-2zM887 228h2v1h-2zM887 80h2v1h-2zM887 377h2v1h-2zM889 427h2v1h-2zM889 129h2v1h-2zM889 278h2v1h-2zM891 328h2v1h-2zM891 30h2v1h-2zM891 476h2v1h-2zM891 179h2v1h-2zM893 526h2v1h-2zM893 228h2v1h-2zM893 80h2v1h-2zM893 377h2v1h-2zM895 427h2v1h-2zM895 129h2v1h-2zM895 278h2v1h-2zM897 328h2v1h-2zM897 30h2v1h-2zM897 476h2v1h-2zM897 179h2v1h-2zM899 526h2v1h-2zM899 228h2v1h-2zM899 80h2v1h-2zM899 377h2v1h-2zM901 427h2v1h-2zM901 129h2v1h-2zM901 278h2v1h-2zM903 328h2v1h-2zM903 30h2v1h-2zM903 476h2v1h-2zM903 179h2v1h-2zM905 485h1v4h-1zM905 453h1v4h-1zM905 301h1v4h-1zM905 517h1v4h-1zM905 269h1v4h-1zM905 77h1v4h-1zM905 141h1v4h-1zM905 333h1v4h-1zM905 173h1v4h-1zM905 237h1v4h-1zM905 397h1v4h-1zM905 357h1v4h-1zM905 205h1v4h-1zM905 421h1v4h-1zM905 477h1v4h-1zM905 197h1v4h-1zM905 45h1v4h-1zM905 109h1v4h-1zM905 261h1v4h-1zM905 293h1v4h-1zM905 30h1v3h-1zM905 325h1v4h-1zM905 373h1v5h-1zM905 389h1v4h-1zM905 381h1v4h-1zM905 101h1v4h-1zM905 165h1v4h-1zM905 445h1v4h-1zM905 285h1v4h-1zM905 133h1v4h-1zM905 69h1v4h-1zM905 53h1v4h-1zM905 213h1v4h-1zM905 349h1v4h-1zM905 413h1v4h-1zM905 525h1v2h-1zM905 437h1v4h-1zM905 221h1v4h-1zM905 501h1v4h-1zM905 469h1v4h-1zM905 189h1v4h-1zM905 37h1v4h-1zM905 253h1v4h-1zM905 317h1v4h-1zM905 93h1v4h-1zM905 157h1v4h-1zM905 85h1v4h-1zM905 277h1v4h-1zM905 125h1v4h-1zM905 341h1v4h-1zM905 228h1v5h-1zM905 181h1v4h-1zM905 245h1v4h-1zM905 309h1v4h-1zM905 405h1v4h-1zM905 61h1v4h-1zM905 509h1v4h-1zM905 461h1v4h-1zM905 365h1v4h-1zM905 149h1v4h-1zM905 429h1v4h-1zM905 493h1v4h-1zM905 117h1v4h-1zM906 526h1v1h-1zM906 228h1v1h-1zM906 80h1v1h-1zM906 377h1v1h-1zM907 427h2v1h-2zM907 129h2v1h-2zM907 278h2v1h-2zM909 328h2v1h-2zM909 30h2v1h-2zM909 476h2v1h-2zM909 179h2v1h-2zM911 526h2v1h-2zM911 228h2v1h-2zM911 80h2v1h-2zM911 377h2v1h-2zM913 427h2v1h-2zM913 129h2v1h-2zM913 278h2v1h-2zM915 328h2v1h-2zM915 30h2v1h-2zM915 476h2v1h-2zM915 179h2v1h-2zM917 526h2v1h-2zM917 228h2v1h-2zM917 80h2v1h-2zM917 377h2v1h-2zM919 427h2v1h-2zM919 129h2v1h-2zM919 278h2v1h-2zM921 328h2v1h-2zM921 30h2v1h-2zM921 476h2v1h-2zM921 179h2v1h-2zM923 526h2v1h-2zM923 228h2v1h-2zM923 80h2v1h-2zM923 377h2v1h-2zM925 427h2v1h-2zM925 129h2v1h-2zM925 278h2v1h-2zM927 328h2v1h-2zM927 30h2v1h-2zM927 476h2v1h-2zM927 179h2v1h-2zM929 526h2v1h-2zM929 228h2v1h-2zM929 80h2v1h-2zM929 377h2v1h-2zM931 427h2v1h-2zM931 129h2v1h-2zM931 278h2v1h-2zM933 328h2v1h-2zM933 30h2v1h-2zM933 476h2v1h-2zM933 179h2v1h-2zM935 526h2v1h-2zM935 228h2v1h-2zM935 80h2v1h-2zM935 377h2v1h-2zM937 427h2v1h-2zM937 129h2v1h-2zM937 278h2v1h-2zM939 328h2v1h-2zM939 30h2v1h-2zM939 476h2v1h-2zM939 179h2v1h-2zM941 526h2v1h-2zM941 228h2v1h-2zM941 80h2v1h-2zM941 377h2v1h-2zM943 427h2v1h-2zM943 129h2v1h-2zM943 278h2v1h-2zM945 453h1v4h-1zM945 301h1v4h-1zM945 517h1v4h-1zM945 269h1v4h-1zM945 77h1v4h-1zM945 141h1v4h-1zM945 333h1v4h-1zM945 173h1v4h-1zM945 237h1v4h-1zM945 397h1v4h-1zM945 357h1v4h-1zM945 205h1v4h-1zM945 421h1v4h-1zM945 485h1v4h-1zM945 197h1v4h-1zM945 45h1v4h-1zM945 109h1v4h-1zM945 261h1v4h-1zM945 293h1v4h-1zM945 30h1v3h-1zM945 325h1v4h-1zM945 389h1v4h-1zM945 381h1v4h-1zM945 101h1v4h-1zM945 165h1v4h-1zM945 229h1v4h-1zM945 285h1v4h-1zM945 133h1v4h-1zM945 69h1v4h-1zM945 53h1v4h-1zM945 213h1v4h-1zM945 349h1v4h-1zM945 413h1v4h-1zM945 501h1v4h-1zM945 373h1v4h-1zM945 221h1v4h-1zM945 437h1v4h-1zM945 469h1v4h-1zM945 189h1v4h-1zM945 37h1v4h-1zM945 253h1v4h-1zM945 317h1v4h-1zM945 93h1v4h-1zM945 157h1v4h-1zM945 85h1v4h-1zM945 277h1v4h-1zM945 125h1v4h-1zM945 341h1v4h-1zM945 405h1v4h-1zM945 181h1v4h-1zM945 245h1v4h-1zM945 309h1v4h-1zM945 61h1v4h-1zM945 509h1v4h-1zM945 476h1v5h-1zM945 525h1v1h-1zM945 445h1v4h-1zM945 461h1v4h-1zM945 365h1v4h-1zM945 149h1v4h-1zM945 429h1v4h-1zM945 493h1v4h-1zM945 117h1v4h-1zM945 179h2v1h-2zM946 328h1v1h-1zM946 30h1v1h-1zM946 476h1v1h-1zM947 526h2v1h-2zM947 228h2v1h-2zM947 80h2v1h-2zM947 377h2v1h-2zM949 427h2v1h-2zM949 129h2v1h-2zM949 278h2v1h-2zM951 328h2v1h-2zM951 30h2v1h-2zM951 476h2v1h-2zM951 179h2v1h-2zM953 526h2v1h-2zM953 228h2v1h-2zM953 80h2v1h-2zM953 377h2v1h-2zM955 427h2v1h-2zM955 129h2v1h-2zM955 278h2v1h-2zM957 328h2v1h-2zM957 30h2v1h-2zM957 476h2v1h-2zM957 179h2v1h-2zM959 526h2v1h-2zM959 228h2v1h-2zM959 80h2v1h-2zM959 377h2v1h-2zM961 427h2v1h-2zM961 129h2v1h-2zM961 278h2v1h-2zM963 328h2v1h-2zM963 30h2v1h-2zM963 476h2v1h-2zM963 179h2v1h-2zM965 526h2v1h-2zM965 228h2v1h-2zM965 80h2v1h-2zM965 377h2v1h-2zM967 427h2v1h-2zM967 129h2v1h-2zM967 278h2v1h-2zM969 328h2v1h-2zM969 30h2v1h-2zM969 476h2v1h-2zM969 179h2v1h-2zM971 526h2v1h-2zM971 228h2v1h-2zM971 80h2v1h-2zM971 377h2v1h-2zM973 427h2v1h-2zM973 129h2v1h-2zM973 278h2v1h-2zM975 328h2v1h-2zM975 30h2v1h-2zM975 476h2v1h-2zM975 179h2v1h-2zM977 526h2v1h-2zM977 228h2v1h-2zM977 80h2v1h-2zM977 377h2v1h-2zM979 427h2v1h-2zM979 129h2v1h-2zM979 278h2v1h-2zM981 328h2v1h-2zM981 30h2v1h-2zM981 476h2v1h-2zM981 179h2v1h-2zM983 526h2v1h-2zM983 228h2v1h-2zM983 80h2v1h-2zM983 377h2v1h-2z"/>
<path fill="#000" d="M23 129h5v1h-5zM23 179h5v1h-5zM23 328h5v1h-5zM23 526h5v1h-5zM23 228h5v1h-5zM23 80h5v1h-5zM23 427h5v1h-5zM23 278h5v1h-5zM23 476h5v1h-5zM23 30h5v1h-5zM23 377h5v1h-5zM28 30h1v497h-1zM29 129h3v1h-3zM29 179h3v1h-3zM29 328h3v1h-3zM29 228h3v1h-3zM29 80h3v1h-3zM29 427h3v1h-3zM29 278h3v1h-3zM29 476h3v1h-3zM29 30h3v1h-3zM29 377h3v1h-3zM29 526h956v1h-956zM982 30h3v1h-3zM985 30h1v497h-1zM986 30h5v1h-5zM986 526h5v1h-5z"/>
<path fill="#ff0000" d="M357 8h3v1h-3zM360 8h2v10h-2zM362 8h3v1h-3zM366 13h1v3h-1zM367 12h1v5h-1zM368 11h1v2h-1zM368 16h1v2h-1zM369 11h2v1h-2zM368 14h4v1h-4zM369 17h3v1h-3zM371 11h1v2h-1zM372 16h1v2h-1zM372 12h1v3h-1zM373 13h1v2h-1zM373 16h1v1h-1zM375 11h1v7h-1zM376 12h1v6h-1zM377 11h1v1h-1zM378 11h1v7h-1zM379 12h1v6h-1zM380 11h1v1h-1zM381 11h1v7h-1zM382 12h1v6h-1zM384 11h2v9h-2zM386 12h1v1h-1zM386 16h1v1h-1zM387 11h2v1h-2zM387 17h2v1h-2zM389 11h1v2h-1zM389 16h1v2h-1zM390 12h1v5h-1zM391 13h1v3h-1zM393 13h1v3h-1zM394 12h1v5h-1zM395 11h1v2h-1zM395 16h1v2h-1zM396 11h2v1h-2zM395 14h4v1h-4zM396 17h3v1h-3zM398 11h1v2h-1zM399 16h1v2h-1zM399 12h1v3h-1zM400 13h1v2h-1zM400 16h1v1h-1zM402 11h1v1h-1zM403 11h1v7h-1zM404 12h1v6h-1zM405 11h1v2h-1zM406 11h2v1h-2zM408 11h1v2h-1zM409 12h1v1h-1zM411 15h1v2h-1zM412 14h1v4h-1zM412 12h1v1h-1zM413 11h1v2h-1zM413 17h3v1h-3zM413 14h4v1h-4zM414 11h3v1h-3zM416 16h1v1h-1zM417 11h1v7h-1zM418 12h1v6h-1zM420 11h2v1h-2zM422 9h1v8h-1zM423 9h1v9h-1zM424 11h2v1h-2zM424 17h2v1h-2zM426 16h1v2h-1zM427 16h1v1h-1zM429 11h1v5h-1zM430 11h1v6h-1zM431 16h1v2h-1zM432 17h2v1h-2zM434 16h1v1h-1zM435 11h2v7h-2zM438 11h1v1h-1zM439 11h1v7h-1zM440 12h1v6h-1zM441 11h1v2h-1zM442 11h2v1h-2zM444 11h1v2h-1zM445 12h1v1h-1z"/>
<path fill="#00008b" d="M492 8h2v10h-2zM494 12h2v2h-2zM496 12h1v3h-1zM494 8h4v1h-4zM497 12h1v1h-1zM497 14h1v2h-1zM498 8h1v5h-1zM498 15h1v3h-1zM499 9h1v3h-1zM499 16h1v2h-1zM501 13h1v3h-1zM502 12h1v5h-1zM503 11h1v2h-1zM503 16h1v2h-1zM504 11h2v1h-2zM503 14h4v1h-4zM504 17h3v1h-3zM506 11h1v2h-1zM507 16h1v2h-1zM507 12h1v3h-1zM508 13h1v2h-1zM508 16h1v1h-1zM510 18h1v1h-1zM510 16h1v1h-1zM510 12h1v3h-1zM511 11h1v9h-1zM512 11h3v1h-3zM512 15h3v1h-3zM512 17h4v1h-4zM512 19h4v1h-4zM515 11h1v5h-1zM516 17h1v3h-1zM516 12h1v3h-1zM517 11h1v2h-1zM517 18h1v1h-1zM519 13h1v3h-1zM520 12h1v5h-1zM521 11h1v2h-1zM521 16h1v2h-1zM522 11h2v1h-2zM521 14h4v1h-4zM522 17h3v1h-3zM524 11h1v2h-1zM525 16h1v2h-1zM525 12h1v3h-1zM526 13h1v2h-1zM526 16h1v1h-1zM528 11h2v7h-2zM530 12h1v1h-1zM531 11h2v1h-2zM533 11h1v2h-1zM534 12h1v6h-1zM535 13h1v5h-1z"/>
<path fill="#000" d="M3 26h1v2h-1zM3 32h1v3h-1zM4 126h1v1h-1zM4 176h1v1h-1zM4 77h1v1h-1zM4 31h1v1h-1zM4 275h1v1h-1zM4 225h1v1h-1zM4 183h2v1h-2zM4 282h2v1h-2zM4 133h2v1h-2zM4 232h2v1h-2zM4 84h2v1h-2zM5 125h1v1h-1zM5 224h1v1h-1zM5 175h1v1h-1zM5 76h1v1h-1zM5 274h1v1h-1zM5 30h1v1h-1zM6 223h1v10h-1zM6 174h1v10h-1zM6 273h1v10h-1zM6 75h1v10h-1zM6 124h1v10h-1zM4 25h4v1h-4zM6 29h2v1h-2zM4 34h5v1h-5zM7 183h2v1h-2zM7 282h2v1h-2zM7 133h2v1h-2zM7 232h2v1h-2zM7 84h2v1h-2zM8 26h1v3h-1zM10 596h1v6h-1zM11 275h1v6h-1zM11 178h1v3h-1zM11 472h1v2h-1zM11 126h1v7h-1zM11 426h1v3h-1zM11 80h1v4h-1zM11 27h1v6h-1zM11 328h1v4h-1zM11 324h1v3h-1zM11 478h1v3h-1zM11 230h1v3h-1zM11 374h1v7h-1zM11 523h1v6h-1zM11 224h1v2h-1zM11 76h1v3h-1zM12 425h1v1h-1zM12 26h1v1h-1zM12 522h1v1h-1zM12 274h1v1h-1zM12 477h1v1h-1zM12 229h1v1h-1zM12 373h1v1h-1zM12 529h1v1h-1zM12 281h1v1h-1zM12 177h1v1h-1zM12 33h1v1h-1zM12 125h1v1h-1zM11 601h3v1h-3zM13 228h1v1h-1zM13 476h1v1h-1zM13 424h1v1h-1zM13 176h1v1h-1zM12 180h3v1h-3zM12 428h3v1h-3zM13 530h2v1h-2zM13 273h2v1h-2zM13 34h2v1h-2zM13 282h2v1h-2zM13 521h2v1h-2zM13 25h2v1h-2zM14 175h1v1h-1zM14 423h1v1h-1zM12 471h4v1h-4zM12 128h4v1h-4zM12 381h4v1h-4zM12 133h4v1h-4zM12 376h4v1h-4zM12 327h4v1h-4zM12 79h4v1h-4zM12 332h4v1h-4zM12 323h4v1h-4zM12 84h4v1h-4zM12 75h4v1h-4zM12 223h4v1h-4zM13 124h3v1h-3zM13 372h3v1h-3zM14 475h2v1h-2zM14 227h2v1h-2zM15 26h1v1h-1zM15 522h1v1h-1zM15 274h1v1h-1zM15 174h1v10h-1zM15 422h1v10h-1zM15 599h1v2h-1zM15 529h1v1h-1zM15 281h1v1h-1zM15 33h1v1h-1zM12 480h5v1h-5zM12 232h5v1h-5zM16 129h1v4h-1zM16 275h1v6h-1zM16 377h1v4h-1zM16 600h1v2h-1zM16 80h1v4h-1zM16 598h1v1h-1zM16 27h1v6h-1zM16 328h1v4h-1zM16 428h1v1h-1zM16 523h1v6h-1zM16 472h1v3h-1zM16 324h1v3h-1zM16 224h1v3h-1zM16 180h1v1h-1zM16 76h1v3h-1zM17 598h1v2h-1zM17 601h2v1h-2zM18 599h1v1h-1zM20 598h1v1h-1zM21 596h1v5h-1zM22 601h1v1h-1zM22 598h1v1h-1zM23 600h1v1h-1zM25 559h1v1h-1zM25 576h1v3h-1zM25 553h1v1h-1zM25 582h1v3h-1zM25 535h1v1h-1zM25 601h1v1h-1zM25 541h1v1h-1zM25 598h2v1h-2zM26 540h1v1h-1zM26 558h1v1h-1zM26 542h1v1h-1zM26 600h1v2h-1zM26 536h1v1h-1zM26 552h1v1h-1zM26 554h1v1h-1zM26 560h1v1h-1zM26 585h1v1h-1zM26 534h1v1h-1zM26 575h2v1h-2zM26 579h2v1h-2zM26 581h2v1h-2zM27 598h1v2h-1zM27 546h2v2h-2zM27 601h2v1h-2zM28 576h1v3h-1zM28 598h1v1h-1zM28 582h1v1h-1zM29 583h1v1h-1zM27 543h4v1h-4zM27 533h4v1h-4zM27 551h4v1h-4zM27 555h4v1h-4zM27 561h4v1h-4zM27 557h4v1h-4zM27 537h4v1h-4zM27 539h4v1h-4zM30 584h1v1h-1zM30 598h1v1h-1zM29 575h3v1h-3zM29 579h3v1h-3zM31 596h1v5h-1zM31 540h1v1h-1zM31 558h1v1h-1zM31 542h1v1h-1zM31 536h1v1h-1zM31 552h1v1h-1zM31 554h1v1h-1zM31 560h1v1h-1zM31 585h1v1h-1zM31 534h1v1h-1zM31 546h2v2h-2zM31 570h2v2h-2zM32 581h1v5h-1zM32 559h1v1h-1zM32 553h1v1h-1zM32 576h1v3h-1zM32 535h1v1h-1zM32 598h1v1h-1zM32 601h1v1h-1zM32 541h1v1h-1zM33 600h1v1h-1zM35 599h1v2h-1zM36 598h1v1h-1zM36 600h1v2h-1zM37 598h1v2h-1zM37 601h2v1h-2zM38 599h1v1h-1zM45 597h1v5h-1zM46 599h2v1h-2zM46 596h2v1h-2zM48 597h1v5h-1zM50 596h1v6h-1zM51 599h2v1h-2zM53 598h1v1h-1zM53 600h1v2h-1zM55 598h1v1h-1zM56 596h1v5h-1zM57 601h1v1h-1zM57 598h1v1h-1zM58 600h1v1h-1zM60 598h1v3h-1zM61 601h1v1h-1zM62 600h1v1h-1zM63 598h1v4h-1zM65 599h1v2h-1zM66 601h1v1h-1zM66 598h2v1h-2zM67 600h1v1h-1zM68 559h1v1h-1zM68 576h1v3h-1zM68 553h1v1h-1zM68 582h1v3h-1zM68 535h1v1h-1zM68 598h1v4h-1zM68 541h1v1h-1zM69 553h1v2h-1zM69 540h1v1h-1zM69 558h1v1h-1zM69 542h1v1h-1zM69 536h1v1h-1zM69 560h1v1h-1zM69 585h1v1h-1zM69 534h1v1h-1zM69 575h2v1h-2zM69 579h2v1h-2zM69 581h2v1h-2zM70 555h1v1h-1zM70 546h2v2h-2zM71 576h1v3h-1zM71 601h1v1h-1zM71 596h1v1h-1zM71 582h1v1h-1zM72 583h1v1h-1zM72 596h1v6h-1zM70 543h4v1h-4zM70 533h4v1h-4zM70 561h4v1h-4zM70 557h4v1h-4zM70 537h4v1h-4zM70 539h4v1h-4zM73 584h1v1h-1zM73 601h1v1h-1zM70 553h5v1h-5zM72 575h3v1h-3zM72 579h3v1h-3zM74 540h1v1h-1zM74 542h1v1h-1zM74 558h1v1h-1zM74 536h1v1h-1zM74 560h1v1h-1zM74 585h1v1h-1zM74 534h1v1h-1zM74 546h2v2h-2zM74 570h2v2h-2zM75 581h1v5h-1zM75 559h1v1h-1zM75 551h1v5h-1zM75 576h1v3h-1zM75 535h1v1h-1zM75 541h1v1h-1zM76 601h1v1h-1zM76 598h1v1h-1zM77 596h1v1h-1zM77 598h1v4h-1zM78 601h1v1h-1zM80 599h1v1h-1zM80 601h2v1h-2zM81 598h1v2h-1zM82 600h1v2h-1zM82 598h2v1h-2zM83 600h1v1h-1zM86 601h1v1h-1zM86 598h1v1h-1zM87 596h1v1h-1zM87 598h1v4h-1zM88 601h1v1h-1zM90 599h1v2h-1zM91 598h1v1h-1zM91 600h1v2h-1zM92 598h1v2h-1zM92 601h2v1h-2zM93 599h1v1h-1zM95 598h1v4h-1zM96 599h1v1h-1zM97 598h1v1h-1zM98 599h1v1h-1zM100 598h1v3h-1zM101 601h1v1h-1zM102 600h1v1h-1zM103 598h1v4h-1zM105 598h1v4h-1zM106 599h1v1h-1zM107 598h1v1h-1zM108 559h1v1h-1zM108 599h1v3h-1zM108 576h1v3h-1zM108 582h1v3h-1zM108 535h1v1h-1zM108 541h1v1h-1zM108 552h1v3h-1zM109 540h1v1h-1zM109 558h1v1h-1zM109 542h1v1h-1zM109 555h1v1h-1zM109 536h1v1h-1zM109 560h1v1h-1zM109 585h1v1h-1zM109 534h1v1h-1zM109 575h2v1h-2zM109 579h2v1h-2zM109 581h2v1h-2zM109 551h2v1h-2zM110 599h1v1h-1zM110 546h2v2h-2zM111 576h1v3h-1zM111 552h1v1h-1zM111 582h1v1h-1zM111 598h2v1h-2zM111 600h2v1h-2zM111 602h2v1h-2zM112 553h1v1h-1zM112 583h1v1h-1zM110 543h4v1h-4zM110 533h4v1h-4zM110 561h4v1h-4zM110 557h4v1h-4zM110 537h4v1h-4zM110 539h4v1h-4zM113 584h1v1h-1zM113 598h1v4h-1zM113 554h1v1h-1zM112 575h3v1h-3zM112 579h3v1h-3zM114 540h1v1h-1zM114 558h1v1h-1zM114 542h1v1h-1zM114 555h1v1h-1zM114 536h1v1h-1zM114 560h1v1h-1zM114 585h1v1h-1zM114 534h1v1h-1zM114 546h2v2h-2zM114 570h2v2h-2zM115 581h1v5h-1zM115 559h1v1h-1zM115 551h1v5h-1zM115 576h1v3h-1zM115 535h1v1h-1zM115 541h1v1h-1zM116 597h2v2h-2zM116 600h2v2h-2zM125 597h1v1h-1zM125 601h1v1h-1zM126 600h1v2h-1zM126 596h2v1h-2zM127 599h1v1h-1zM127 601h2v1h-2zM128 597h1v2h-1zM130 597h1v2h-1zM131 599h1v1h-1zM131 601h2v1h-2zM131 596h2v1h-2zM132 598h1v1h-1zM133 597h1v4h-1zM136 600h2v2h-2zM141 597h1v4h-1zM142 601h1v1h-1zM142 596h1v1h-1zM143 597h1v4h-1zM145 597h1v2h-1zM146 599h1v1h-1zM146 601h2v1h-2zM146 596h2v1h-2zM147 598h1v1h-1zM148 559h1v1h-1zM148 597h1v4h-1zM148 576h1v3h-1zM148 582h1v3h-1zM148 535h1v1h-1zM148 541h1v1h-1zM148 552h1v3h-1zM149 540h1v1h-1zM149 558h1v1h-1zM149 542h1v1h-1zM149 555h1v1h-1zM149 536h1v1h-1zM149 560h1v1h-1zM149 585h1v1h-1zM149 534h1v1h-1zM149 575h2v1h-2zM149 579h2v1h-2zM149 581h2v1h-2zM149 551h2v1h-2zM150 546h2v2h-2zM151 552h1v2h-1zM151 576h1v3h-1zM151 582h1v1h-1zM151 600h2v2h-2zM152 583h1v1h-1zM150 543h4v1h-4zM150 533h4v1h-4zM150 561h4v1h-4zM150 557h4v1h-4zM150 537h4v1h-4zM150 539h4v1h-4zM153 584h1v1h-1zM152 575h3v1h-3zM152 579h3v1h-3zM152 551h3v1h-3zM154 540h1v1h-1zM154 558h1v1h-1zM154 542h1v1h-1zM154 555h1v1h-1zM154 536h1v1h-1zM154 560h1v1h-1zM154 585h1v1h-1zM154 534h1v1h-1zM154 546h2v2h-2zM154 570h2v2h-2zM155 581h1v5h-1zM155 559h1v1h-1zM155 576h1v3h-1zM155 597h1v1h-1zM155 535h1v1h-1zM155 601h1v1h-1zM155 541h1v1h-1zM155 552h1v3h-1zM156 600h1v2h-1zM156 596h2v1h-2zM157 599h1v1h-1zM157 601h2v1h-2zM158 597h1v2h-1zM161 597h1v4h-1zM162 601h1v1h-1zM162 596h1v1h-1zM163 597h1v4h-1zM165 597h1v1h-1zM165 601h1v1h-1zM166 600h1v2h-1zM166 596h2v1h-2zM167 599h1v1h-1zM167 601h2v1h-2zM168 597h1v2h-1zM171 597h1v1h-1zM171 601h1v1h-1zM172 596h1v6h-1zM173 601h1v1h-1zM176 601h1v1h-1zM177 599h1v2h-1zM178 599h1v1h-1zM186 597h1v4h-1zM187 559h1v1h-1zM187 576h1v3h-1zM187 582h1v3h-1zM187 535h1v1h-1zM187 596h1v1h-1zM187 552h1v1h-1zM187 601h1v1h-1zM187 541h1v1h-1zM188 552h1v2h-1zM188 597h1v4h-1zM188 540h1v1h-1zM188 558h1v1h-1zM188 542h1v1h-1zM188 536h1v1h-1zM188 560h1v1h-1zM188 585h1v1h-1zM188 534h1v1h-1zM188 575h2v1h-2zM188 579h2v1h-2zM188 581h2v1h-2zM189 554h1v1h-1zM189 546h2v2h-2zM190 576h1v3h-1zM190 582h1v1h-1zM189 552h3v1h-3zM190 555h2v1h-2zM191 597h1v4h-1zM191 583h1v1h-1zM189 543h4v1h-4zM189 533h4v1h-4zM189 561h4v1h-4zM189 557h4v1h-4zM189 537h4v1h-4zM189 539h4v1h-4zM192 584h1v1h-1zM192 551h1v5h-1zM192 601h1v1h-1zM192 596h1v1h-1zM191 575h3v1h-3zM191 579h3v1h-3zM193 597h1v4h-1zM193 540h1v1h-1zM193 558h1v1h-1zM193 542h1v1h-1zM193 536h1v1h-1zM193 560h1v1h-1zM193 585h1v1h-1zM193 534h1v1h-1zM193 546h2v2h-2zM193 570h2v2h-2zM193 552h2v1h-2zM194 581h1v5h-1zM194 559h1v1h-1zM194 576h1v3h-1zM194 535h1v1h-1zM194 541h1v1h-1zM196 597h2v2h-2zM196 600h2v2h-2zM201 597h1v4h-1zM202 601h1v1h-1zM202 596h1v1h-1zM203 597h1v4h-1zM206 597h1v1h-1zM206 601h1v1h-1zM207 596h1v6h-1zM208 601h1v1h-1zM211 597h2v2h-2zM211 600h2v2h-2zM215 597h1v1h-1zM215 600h1v1h-1zM216 601h2v1h-2zM216 596h2v1h-2zM217 598h1v1h-1zM218 597h1v1h-1zM218 599h1v2h-1zM220 597h1v1h-1zM220 599h1v2h-1zM221 601h2v1h-2zM221 598h2v1h-2zM221 596h2v1h-2zM223 597h1v1h-1zM223 599h1v2h-1zM227 559h1v1h-1zM227 551h1v5h-1zM227 576h1v3h-1zM227 582h1v3h-1zM227 535h1v1h-1zM227 541h1v1h-1zM228 540h1v1h-1zM228 558h1v1h-1zM228 542h1v1h-1zM228 555h1v1h-1zM228 536h1v1h-1zM228 560h1v1h-1zM228 585h1v1h-1zM228 534h1v1h-1zM228 575h2v1h-2zM228 579h2v1h-2zM228 581h2v1h-2zM229 552h1v4h-1zM229 546h2v2h-2zM230 596h1v5h-1zM230 576h1v3h-1zM230 555h1v1h-1zM230 582h1v1h-1zM231 583h1v1h-1zM229 543h4v1h-4zM229 533h4v1h-4zM229 561h4v1h-4zM229 557h4v1h-4zM229 537h4v1h-4zM229 539h4v1h-4zM231 601h2v1h-2zM232 584h1v1h-1zM230 551h4v1h-4zM231 575h3v1h-3zM231 579h3v1h-3zM233 596h1v5h-1zM233 540h1v1h-1zM233 558h1v1h-1zM233 542h1v1h-1zM233 555h1v1h-1zM233 536h1v1h-1zM233 560h1v1h-1zM233 585h1v1h-1zM233 534h1v1h-1zM233 546h2v2h-2zM233 570h2v2h-2zM234 581h1v5h-1zM234 559h1v1h-1zM234 576h1v3h-1zM234 535h1v1h-1zM234 541h1v1h-1zM234 552h1v3h-1zM235 596h1v6h-1zM236 598h2v1h-2zM238 599h1v3h-1zM240 598h1v4h-1zM241 599h1v1h-1zM242 598h1v1h-1zM243 599h1v1h-1zM266 559h1v1h-1zM266 576h1v3h-1zM266 582h1v3h-1zM266 535h1v1h-1zM266 551h1v3h-1zM266 541h1v1h-1zM267 540h1v1h-1zM267 558h1v1h-1zM267 542h1v1h-1zM267 536h1v1h-1zM267 554h1v1h-1zM267 560h1v1h-1zM267 585h1v1h-1zM267 534h1v1h-1zM267 575h2v1h-2zM267 579h2v1h-2zM267 581h2v1h-2zM268 555h1v1h-1zM268 546h2v2h-2zM269 576h1v3h-1zM269 552h1v4h-1zM269 582h1v1h-1zM270 583h1v1h-1zM268 543h4v1h-4zM268 533h4v1h-4zM268 561h4v1h-4zM268 557h4v1h-4zM268 537h4v1h-4zM268 539h4v1h-4zM271 584h1v1h-1zM270 575h3v1h-3zM270 579h3v1h-3zM270 551h3v1h-3zM270 555h3v1h-3zM272 540h1v1h-1zM272 558h1v1h-1zM272 542h1v1h-1zM272 536h1v1h-1zM272 560h1v1h-1zM272 585h1v1h-1zM272 534h1v1h-1zM272 546h2v2h-2zM272 570h2v2h-2zM273 581h1v5h-1zM273 559h1v1h-1zM273 576h1v3h-1zM273 535h1v1h-1zM273 541h1v1h-1zM273 552h1v3h-1zM306 559h1v1h-1zM306 551h1v5h-1zM306 576h1v3h-1zM306 582h1v3h-1zM306 535h1v1h-1zM306 541h1v1h-1zM307 535h1v2h-1zM307 558h1v1h-1zM307 540h1v1h-1zM307 542h1v1h-1zM307 551h1v1h-1zM307 560h1v1h-1zM307 585h1v1h-1zM307 575h2v1h-2zM307 579h2v1h-2zM307 581h2v1h-2zM308 537h1v1h-1zM308 546h2v2h-2zM308 552h2v1h-2zM309 576h1v3h-1zM309 582h1v1h-1zM310 583h1v1h-1zM308 543h4v1h-4zM308 561h4v1h-4zM308 557h4v1h-4zM308 539h4v1h-4zM310 553h2v1h-2zM311 584h1v1h-1zM308 535h5v1h-5zM310 575h3v1h-3zM310 579h3v1h-3zM312 540h1v1h-1zM312 558h1v1h-1zM312 542h1v1h-1zM312 560h1v1h-1zM312 585h1v1h-1zM312 546h2v2h-2zM312 570h2v2h-2zM312 554h2v1h-2zM313 581h1v5h-1zM313 559h1v1h-1zM313 576h1v3h-1zM313 541h1v1h-1zM313 533h1v5h-1zM346 559h1v1h-1zM346 576h1v3h-1zM346 582h1v3h-1zM346 535h1v1h-1zM346 541h1v1h-1zM346 552h1v3h-1zM347 540h1v1h-1zM347 558h1v1h-1zM347 542h1v1h-1zM347 536h1v1h-1zM347 560h1v1h-1zM347 585h1v1h-1zM347 534h1v1h-1zM347 575h2v1h-2zM347 579h2v1h-2zM347 581h2v1h-2zM347 551h2v1h-2zM347 555h2v1h-2zM348 546h2v2h-2zM349 576h1v3h-1zM349 552h1v3h-1zM349 582h1v1h-1zM350 583h1v1h-1zM348 543h4v1h-4zM348 533h4v1h-4zM348 561h4v1h-4zM348 557h4v1h-4zM348 537h4v1h-4zM348 539h4v1h-4zM351 584h1v1h-1zM350 575h3v1h-3zM350 579h3v1h-3zM350 551h3v1h-3zM350 555h3v1h-3zM352 540h1v1h-1zM352 558h1v1h-1zM352 542h1v1h-1zM352 536h1v1h-1zM352 560h1v1h-1zM352 585h1v1h-1zM352 534h1v1h-1zM352 546h2v2h-2zM352 570h2v2h-2zM353 581h1v5h-1zM353 559h1v1h-1zM353 576h1v3h-1zM353 535h1v1h-1zM353 541h1v1h-1zM353 552h1v3h-1zM385 559h1v1h-1zM385 576h1v3h-1zM385 582h1v3h-1zM385 535h1v1h-1zM385 541h1v1h-1zM385 552h1v3h-1zM386 540h1v1h-1zM386 558h1v1h-1zM386 542h1v1h-1zM386 536h1v1h-1zM386 560h1v1h-1zM386 585h1v1h-1zM386 534h1v1h-1zM386 575h2v1h-2zM386 579h2v1h-2zM386 581h2v1h-2zM386 551h3v1h-3zM386 555h3v1h-3zM387 546h2v2h-2zM388 576h1v3h-1zM388 582h1v1h-1zM389 551h1v4h-1zM389 583h1v1h-1zM387 543h4v1h-4zM387 533h4v1h-4zM387 561h4v1h-4zM387 557h4v1h-4zM387 537h4v1h-4zM387 539h4v1h-4zM390 584h1v1h-1zM390 551h1v1h-1zM389 575h3v1h-3zM389 579h3v1h-3zM391 540h1v1h-1zM391 558h1v1h-1zM391 542h1v1h-1zM391 536h1v1h-1zM391 552h1v1h-1zM391 560h1v1h-1zM391 585h1v1h-1zM391 534h1v1h-1zM391 546h2v2h-2zM391 570h2v2h-2zM392 581h1v5h-1zM392 559h1v1h-1zM392 576h1v3h-1zM392 535h1v1h-1zM392 553h1v3h-1zM392 541h1v1h-1zM424 559h1v1h-1zM424 576h1v3h-1zM424 553h1v1h-1zM424 582h1v3h-1zM424 535h1v1h-1zM424 541h1v1h-1zM425 540h1v1h-1zM425 542h1v1h-1zM425 536h1v1h-1zM425 552h1v1h-1zM425 554h1v1h-1zM425 559h1v2h-1zM425 585h1v1h-1zM425 534h1v1h-1zM425 575h2v1h-2zM425 579h2v1h-2zM425 581h2v1h-2zM426 561h1v1h-1zM426 546h2v2h-2zM427 576h1v3h-1zM427 582h1v1h-1zM428 583h1v1h-1zM426 543h4v1h-4zM426 533h4v1h-4zM426 551h4v1h-4zM426 555h4v1h-4zM426 537h4v1h-4zM426 539h4v1h-4zM429 584h1v1h-1zM426 559h5v1h-5zM428 575h3v1h-3zM428 579h3v1h-3zM430 540h1v1h-1zM430 542h1v1h-1zM430 536h1v1h-1zM430 552h1v1h-1zM430 554h1v1h-1zM430 585h1v1h-1zM430 534h1v1h-1zM430 546h2v2h-2zM430 570h2v2h-2zM431 581h1v5h-1zM431 553h1v1h-1zM431 576h1v3h-1zM431 535h1v1h-1zM431 557h1v5h-1zM431 541h1v1h-1zM456 11h1v5h-1zM457 11h1v6h-1zM458 16h1v2h-1zM459 17h2v1h-2zM461 16h1v1h-1zM462 11h2v7h-2zM463 559h1v1h-1zM463 553h1v1h-1zM463 576h1v3h-1zM463 582h1v3h-1zM463 535h1v1h-1zM463 541h1v1h-1zM464 553h1v2h-1zM464 540h1v1h-1zM464 542h1v1h-1zM464 536h1v1h-1zM464 559h1v2h-1zM464 585h1v1h-1zM464 534h1v1h-1zM464 575h2v1h-2zM464 579h2v1h-2zM464 581h2v1h-2zM465 555h1v1h-1zM465 561h1v1h-1zM465 546h2v2h-2zM465 11h2v7h-2zM466 576h1v3h-1zM466 582h1v1h-1zM467 12h1v1h-1zM467 583h1v1h-1zM465 543h4v1h-4zM465 533h4v1h-4zM465 537h4v1h-4zM465 539h4v1h-4zM468 584h1v1h-1zM465 559h5v1h-5zM465 553h5v1h-5zM467 575h3v1h-3zM467 579h3v1h-3zM468 11h2v1h-2zM469 540h1v1h-1zM469 542h1v1h-1zM469 536h1v1h-1zM469 585h1v1h-1zM469 534h1v1h-1zM469 546h2v2h-2zM469 570h2v2h-2zM470 581h1v5h-1zM470 551h1v5h-1zM470 576h1v3h-1zM470 11h1v2h-1zM470 535h1v1h-1zM470 557h1v5h-1zM470 541h1v1h-1zM471 12h1v6h-1zM472 13h1v5h-1zM474 13h1v3h-1zM475 12h1v5h-1zM476 11h1v2h-1zM476 16h1v2h-1zM477 11h2v1h-2zM477 17h2v1h-2zM479 12h1v1h-1zM479 16h1v1h-1zM480 8h2v10h-2zM504 559h1v1h-1zM504 576h1v3h-1zM504 582h1v3h-1zM504 535h1v1h-1zM504 541h1v1h-1zM504 552h1v3h-1zM505 535h1v2h-1zM505 540h1v1h-1zM505 542h1v1h-1zM505 555h1v1h-1zM505 559h1v2h-1zM505 585h1v1h-1zM505 575h2v1h-2zM505 579h2v1h-2zM505 581h2v1h-2zM505 551h2v1h-2zM506 561h1v1h-1zM506 537h1v1h-1zM506 546h2v2h-2zM507 576h1v3h-1zM507 552h1v1h-1zM507 582h1v1h-1zM508 553h1v1h-1zM508 583h1v1h-1zM506 543h4v1h-4zM506 539h4v1h-4zM509 584h1v1h-1zM509 554h1v1h-1zM506 559h5v1h-5zM506 535h5v1h-5zM508 575h3v1h-3zM508 579h3v1h-3zM510 540h1v1h-1zM510 542h1v1h-1zM510 555h1v1h-1zM510 585h1v1h-1zM510 546h2v2h-2zM510 570h2v2h-2zM511 581h1v5h-1zM511 551h1v5h-1zM511 576h1v3h-1zM511 557h1v5h-1zM511 541h1v1h-1zM511 533h1v5h-1zM543 559h1v1h-1zM543 576h1v3h-1zM543 582h1v3h-1zM543 535h1v1h-1zM543 541h1v1h-1zM543 552h1v3h-1zM544 540h1v1h-1zM544 542h1v1h-1zM544 555h1v1h-1zM544 536h1v1h-1zM544 559h1v2h-1zM544 585h1v1h-1zM544 534h1v1h-1zM544 575h2v1h-2zM544 579h2v1h-2zM544 581h2v1h-2zM544 551h2v1h-2zM545 561h1v1h-1zM545 546h2v2h-2zM546 552h1v2h-1zM546 576h1v3h-1zM546 15h1v2h-1zM546 582h1v1h-1zM547 12h1v1h-1zM547 583h1v1h-1zM547 14h1v4h-1zM545 543h4v1h-4zM545 533h4v1h-4zM545 537h4v1h-4zM545 539h4v1h-4zM548 584h1v1h-1zM548 11h1v2h-1zM545 559h5v1h-5zM547 575h3v1h-3zM547 579h3v1h-3zM547 551h3v1h-3zM549 585h1v1h-1zM549 540h1v1h-1zM549 542h1v1h-1zM549 555h1v1h-1zM549 536h1v1h-1zM549 534h1v1h-1zM548 17h3v1h-3zM549 546h2v2h-2zM549 570h2v2h-2zM550 581h1v5h-1zM550 576h1v3h-1zM550 535h1v1h-1zM550 557h1v5h-1zM550 541h1v1h-1zM550 552h1v3h-1zM548 14h4v1h-4zM549 11h3v1h-3zM551 16h1v1h-1zM552 11h1v7h-1zM553 12h1v6h-1zM555 11h1v7h-1zM556 12h1v6h-1zM557 11h1v1h-1zM558 11h1v7h-1zM559 12h1v6h-1zM560 11h1v1h-1zM561 11h1v7h-1zM562 12h1v6h-1zM573 17h1v1h-1zM573 10h1v1h-1zM574 9h1v2h-1zM574 16h1v2h-1zM575 15h1v3h-1zM575 8h1v2h-1zM576 14h1v2h-1zM576 8h2v1h-2zM577 13h1v2h-1zM578 8h1v2h-1zM578 12h1v2h-1zM579 9h1v4h-1zM576 17h5v1h-5zM580 10h1v2h-1zM582 10h1v1h-1zM582 14h1v2h-1zM583 559h1v1h-1zM583 13h1v4h-1zM583 576h1v3h-1zM583 582h1v3h-1zM583 535h1v1h-1zM583 9h1v3h-1zM583 552h1v1h-1zM583 541h1v1h-1zM584 552h1v2h-1zM584 540h1v1h-1zM584 542h1v1h-1zM584 8h1v2h-1zM584 536h1v1h-1zM584 559h1v2h-1zM584 16h1v2h-1zM584 11h1v3h-1zM584 585h1v1h-1zM584 534h1v1h-1zM584 575h2v1h-2zM584 579h2v1h-2zM584 581h2v1h-2zM585 554h1v1h-1zM585 561h1v1h-1zM585 546h2v2h-2zM585 12h2v1h-2zM585 8h2v1h-2zM585 17h2v1h-2zM586 576h1v3h-1zM586 582h1v1h-1zM585 552h3v1h-3zM586 555h2v1h-2zM587 8h1v2h-1zM587 583h1v1h-1zM587 16h1v2h-1zM587 11h1v3h-1zM585 543h4v1h-4zM585 533h4v1h-4zM585 537h4v1h-4zM585 539h4v1h-4zM588 584h1v1h-1zM588 13h1v4h-1zM588 551h1v5h-1zM588 9h1v3h-1zM585 559h5v1h-5zM587 575h3v1h-3zM587 579h3v1h-3zM589 10h1v1h-1zM589 540h1v1h-1zM589 542h1v1h-1zM589 536h1v1h-1zM589 14h1v2h-1zM589 585h1v1h-1zM589 534h1v1h-1zM589 546h2v2h-2zM589 570h2v2h-2zM589 552h2v1h-2zM590 581h1v5h-1zM590 576h1v3h-1zM590 535h1v1h-1zM590 557h1v5h-1zM590 541h1v1h-1zM593 17h1v1h-1zM594 16h2v3h-2zM596 17h1v1h-1zM600 11h1v4h-1zM601 10h1v6h-1zM602 9h1v2h-1zM602 15h1v2h-1zM603 8h2v2h-2zM603 16h2v2h-2zM605 9h1v2h-1zM605 15h1v2h-1zM606 10h1v6h-1zM607 11h1v4h-1zM609 10h1v2h-1zM610 15h1v2h-1zM610 9h1v4h-1zM611 8h1v2h-1zM611 12h1v2h-1zM611 16h1v2h-1zM612 13h2v1h-2zM612 17h2v1h-2zM612 8h2v1h-2zM614 12h1v1h-1zM614 8h1v2h-1zM614 16h1v2h-1zM615 9h1v8h-1zM616 10h1v6h-1zM620 17h1v1h-1zM621 16h2v3h-2zM622 559h1v1h-1zM622 551h1v5h-1zM622 576h1v3h-1zM622 535h1v1h-1zM622 582h1v3h-1zM622 541h1v1h-1zM623 540h1v1h-1zM623 542h1v1h-1zM623 555h1v1h-1zM623 536h1v1h-1zM623 559h1v2h-1zM623 17h1v1h-1zM623 585h1v1h-1zM623 534h1v1h-1zM623 575h2v1h-2zM623 579h2v1h-2zM623 581h2v1h-2zM624 552h1v4h-1zM624 561h1v1h-1zM624 546h2v2h-2zM625 576h1v3h-1zM625 555h1v1h-1zM625 582h1v1h-1zM626 583h1v1h-1zM624 543h4v1h-4zM624 533h4v1h-4zM624 537h4v1h-4zM624 539h4v1h-4zM627 10h1v1h-1zM627 584h1v1h-1zM627 17h1v1h-1zM624 559h5v1h-5zM625 551h4v1h-4zM626 575h3v1h-3zM626 579h3v1h-3zM628 540h1v1h-1zM628 542h1v1h-1zM628 555h1v1h-1zM628 536h1v1h-1zM628 16h1v2h-1zM628 9h1v2h-1zM628 585h1v1h-1zM628 534h1v1h-1zM628 546h2v2h-2zM628 570h2v2h-2zM629 581h1v5h-1zM629 576h1v3h-1zM629 535h1v1h-1zM629 8h1v2h-1zM629 557h1v5h-1zM629 541h1v1h-1zM629 15h1v3h-1zM629 552h1v3h-1zM630 14h1v2h-1zM630 8h2v1h-2zM631 13h1v2h-1zM632 8h1v2h-1zM632 12h1v2h-1zM633 9h1v4h-1zM630 17h5v1h-5zM634 10h1v2h-1zM636 11h1v4h-1zM637 10h1v6h-1zM638 9h1v2h-1zM638 15h1v2h-1zM639 8h2v2h-2zM639 16h2v2h-2zM641 9h1v2h-1zM641 15h1v2h-1zM642 10h1v6h-1zM643 11h1v4h-1zM645 17h1v1h-1zM645 10h1v1h-1zM646 9h1v2h-1zM646 16h1v2h-1zM647 15h1v3h-1zM647 8h1v2h-1zM648 14h1v2h-1zM648 8h2v1h-2zM649 13h1v2h-1zM650 8h1v2h-1zM650 12h1v2h-1zM651 9h1v4h-1zM648 17h5v1h-5zM652 10h1v2h-1zM655 10h1v1h-1zM655 17h2v1h-2zM656 9h1v2h-1zM657 8h2v10h-2zM659 17h2v1h-2zM662 559h1v1h-1zM662 576h1v3h-1zM662 582h1v3h-1zM662 535h1v1h-1zM662 551h1v3h-1zM662 541h1v1h-1zM663 540h1v1h-1zM663 542h1v1h-1zM663 536h1v1h-1zM663 554h1v1h-1zM663 559h1v2h-1zM663 585h1v1h-1zM663 534h1v1h-1zM663 575h2v1h-2zM663 579h2v1h-2zM663 581h2v1h-2zM664 555h1v1h-1zM664 561h1v1h-1zM664 546h2v2h-2zM665 576h1v3h-1zM665 552h1v4h-1zM665 582h1v1h-1zM666 583h1v1h-1zM664 543h4v1h-4zM664 533h4v1h-4zM664 537h4v1h-4zM664 539h4v1h-4zM667 584h1v1h-1zM664 559h5v1h-5zM666 575h3v1h-3zM666 579h3v1h-3zM666 551h3v1h-3zM666 555h3v1h-3zM668 540h1v1h-1zM668 542h1v1h-1zM668 536h1v1h-1zM668 585h1v1h-1zM668 534h1v1h-1zM668 546h2v2h-2zM668 570h2v2h-2zM669 581h1v5h-1zM669 576h1v3h-1zM669 535h1v1h-1zM669 557h1v5h-1zM669 541h1v1h-1zM669 552h1v3h-1zM702 559h1v1h-1zM702 551h1v5h-1zM702 576h1v3h-1zM702 582h1v3h-1zM702 535h1v1h-1zM702 541h1v1h-1zM703 540h1v1h-1zM703 542h1v1h-1zM703 551h1v1h-1zM703 536h1v1h-1zM703 559h1v2h-1zM703 585h1v1h-1zM703 534h1v1h-1zM703 575h2v1h-2zM703 579h2v1h-2zM703 581h2v1h-2zM704 561h1v1h-1zM704 546h2v2h-2zM704 552h2v1h-2zM705 576h1v3h-1zM705 582h1v1h-1zM706 583h1v1h-1zM704 543h4v1h-4zM704 533h4v1h-4zM704 537h4v1h-4zM704 539h4v1h-4zM706 553h2v1h-2zM707 584h1v1h-1zM704 559h5v1h-5zM706 575h3v1h-3zM706 579h3v1h-3zM708 540h1v1h-1zM708 542h1v1h-1zM708 536h1v1h-1zM708 585h1v1h-1zM708 534h1v1h-1zM708 546h2v2h-2zM708 570h2v2h-2zM708 554h2v1h-2zM709 581h1v5h-1zM709 576h1v3h-1zM709 535h1v1h-1zM709 557h1v5h-1zM709 541h1v1h-1zM743 559h1v1h-1zM743 576h1v3h-1zM743 582h1v3h-1zM743 535h1v1h-1zM743 541h1v1h-1zM743 552h1v3h-1zM744 535h1v2h-1zM744 540h1v1h-1zM744 542h1v1h-1zM744 559h1v2h-1zM744 585h1v1h-1zM744 575h2v1h-2zM744 579h2v1h-2zM744 581h2v1h-2zM744 555h2v1h-2zM744 551h2v1h-2zM745 561h1v1h-1zM745 537h1v1h-1zM745 546h2v2h-2zM746 576h1v3h-1zM746 552h1v3h-1zM746 582h1v1h-1zM747 583h1v1h-1zM745 543h4v1h-4zM745 539h4v1h-4zM748 584h1v1h-1zM745 559h5v1h-5zM745 535h5v1h-5zM747 575h3v1h-3zM747 579h3v1h-3zM747 551h3v1h-3zM747 555h3v1h-3zM749 540h1v1h-1zM749 542h1v1h-1zM749 585h1v1h-1zM749 546h2v2h-2zM749 570h2v2h-2zM750 581h1v5h-1zM750 576h1v3h-1zM750 557h1v5h-1zM750 541h1v1h-1zM750 552h1v3h-1zM750 533h1v5h-1zM782 559h1v1h-1zM782 576h1v3h-1zM782 582h1v3h-1zM782 535h1v1h-1zM782 541h1v1h-1zM782 552h1v3h-1zM783 540h1v1h-1zM783 542h1v1h-1zM783 536h1v1h-1zM783 559h1v2h-1zM783 585h1v1h-1zM783 534h1v1h-1zM783 575h2v1h-2zM783 579h2v1h-2zM783 581h2v1h-2zM784 561h1v1h-1zM783 551h3v1h-3zM783 555h3v1h-3zM784 546h2v2h-2zM785 576h1v3h-1zM785 582h1v1h-1zM786 551h1v4h-1zM786 583h1v1h-1zM784 543h4v1h-4zM784 533h4v1h-4zM784 537h4v1h-4zM784 539h4v1h-4zM787 584h1v1h-1zM787 551h1v1h-1zM784 559h5v1h-5zM786 575h3v1h-3zM786 579h3v1h-3zM788 540h1v1h-1zM788 542h1v1h-1zM788 536h1v1h-1zM788 552h1v1h-1zM788 585h1v1h-1zM788 534h1v1h-1zM788 546h2v2h-2zM788 570h2v2h-2zM789 581h1v5h-1zM789 576h1v3h-1zM789 535h1v1h-1zM789 553h1v3h-1zM789 557h1v5h-1zM789 541h1v1h-1zM823 576h1v3h-1zM823 553h1v1h-1zM823 582h1v3h-1zM823 535h1v1h-1zM823 558h1v3h-1zM823 541h1v1h-1zM824 540h1v1h-1zM824 542h1v1h-1zM824 536h1v1h-1zM824 552h1v1h-1zM824 561h1v1h-1zM824 554h1v1h-1zM824 585h1v1h-1zM824 534h1v1h-1zM824 575h2v1h-2zM824 579h2v1h-2zM824 581h2v1h-2zM824 557h2v1h-2zM825 546h2v2h-2zM826 558h1v1h-1zM826 576h1v3h-1zM826 582h1v1h-1zM827 559h1v1h-1zM827 583h1v1h-1zM825 543h4v1h-4zM825 533h4v1h-4zM825 551h4v1h-4zM825 555h4v1h-4zM825 537h4v1h-4zM825 539h4v1h-4zM828 584h1v1h-1zM828 560h1v1h-1zM827 575h3v1h-3zM827 579h3v1h-3zM829 540h1v1h-1zM829 542h1v1h-1zM829 536h1v1h-1zM829 552h1v1h-1zM829 561h1v1h-1zM829 554h1v1h-1zM829 585h1v1h-1zM829 534h1v1h-1zM829 546h2v2h-2zM829 570h2v2h-2zM830 581h1v5h-1zM830 553h1v1h-1zM830 576h1v3h-1zM830 535h1v1h-1zM830 557h1v5h-1zM830 541h1v1h-1zM835 596h1v6h-1zM836 601h2v1h-2zM836 596h2v1h-2zM838 597h1v4h-1zM840 599h1v2h-1zM841 601h1v1h-1zM841 598h2v1h-2zM842 600h1v1h-1zM843 598h1v4h-1zM845 598h1v1h-1zM846 596h1v5h-1zM847 601h1v1h-1zM847 598h1v1h-1zM848 600h1v1h-1zM850 599h1v2h-1zM851 598h1v1h-1zM851 600h1v2h-1zM852 598h1v2h-1zM852 601h2v1h-2zM853 599h1v1h-1zM855 598h1v4h-1zM856 599h1v1h-1zM857 598h1v1h-1zM858 599h1v3h-1zM860 599h1v1h-1zM860 601h2v1h-2zM861 598h1v2h-1zM862 600h1v2h-1zM862 576h1v3h-1zM862 553h1v1h-1zM862 582h1v3h-1zM862 535h1v1h-1zM862 558h1v3h-1zM862 541h1v1h-1zM862 598h2v1h-2zM863 553h1v2h-1zM863 540h1v1h-1zM863 542h1v1h-1zM863 536h1v1h-1zM863 600h1v1h-1zM863 561h1v1h-1zM863 585h1v1h-1zM863 534h1v1h-1zM863 575h2v1h-2zM863 579h2v1h-2zM863 581h2v1h-2zM863 557h2v1h-2zM864 555h1v1h-1zM864 546h2v2h-2zM865 558h1v1h-1zM865 576h1v3h-1zM865 598h1v1h-1zM865 582h1v1h-1zM866 559h1v1h-1zM866 596h1v5h-1zM866 583h1v1h-1zM864 543h4v1h-4zM864 533h4v1h-4zM864 537h4v1h-4zM864 539h4v1h-4zM867 584h1v1h-1zM867 601h1v1h-1zM867 598h1v1h-1zM867 560h1v1h-1zM864 553h5v1h-5zM866 575h3v1h-3zM866 579h3v1h-3zM868 540h1v1h-1zM868 542h1v1h-1zM868 536h1v1h-1zM868 600h1v1h-1zM868 561h1v1h-1zM868 585h1v1h-1zM868 534h1v1h-1zM868 546h2v2h-2zM868 570h2v2h-2zM869 581h1v5h-1zM869 551h1v5h-1zM869 576h1v3h-1zM869 535h1v1h-1zM869 557h1v5h-1zM869 541h1v1h-1zM870 599h1v2h-1zM871 601h1v1h-1zM871 598h2v1h-2zM872 600h1v1h-1zM873 598h1v4h-1zM875 598h1v4h-1zM876 599h1v1h-1zM877 598h1v1h-1zM878 599h1v3h-1zM880 599h1v2h-1zM881 601h1v1h-1zM881 598h2v1h-2zM882 600h1v1h-1zM883 596h1v6h-1zM886 597h2v2h-2zM886 600h2v2h-2zM895 597h1v1h-1zM895 601h1v1h-1zM896 600h1v2h-1zM896 596h2v1h-2zM897 599h1v1h-1zM897 601h2v1h-2zM898 597h1v2h-1zM900 597h1v1h-1zM900 599h1v2h-1zM901 601h2v1h-2zM901 598h2v1h-2zM901 596h2v1h-2zM902 576h1v3h-1zM902 582h1v3h-1zM902 535h1v1h-1zM902 558h1v3h-1zM902 541h1v1h-1zM902 552h1v3h-1zM903 540h1v1h-1zM903 542h1v1h-1zM903 555h1v1h-1zM903 597h1v1h-1zM903 599h1v2h-1zM903 536h1v1h-1zM903 561h1v1h-1zM903 585h1v1h-1zM903 534h1v1h-1zM903 575h2v1h-2zM903 579h2v1h-2zM903 581h2v1h-2zM903 551h2v1h-2zM903 557h2v1h-2zM904 546h2v2h-2zM905 558h1v1h-1zM905 576h1v3h-1zM905 552h1v1h-1zM905 582h1v1h-1zM906 559h1v1h-1zM906 553h1v1h-1zM906 583h1v1h-1zM904 543h4v1h-4zM904 533h4v1h-4zM904 537h4v1h-4zM904 539h4v1h-4zM906 600h2v2h-2zM907 584h1v1h-1zM907 554h1v1h-1zM907 560h1v1h-1zM906 575h3v1h-3zM906 579h3v1h-3zM908 540h1v1h-1zM908 542h1v1h-1zM908 555h1v1h-1zM908 536h1v1h-1zM908 561h1v1h-1zM908 585h1v1h-1zM908 534h1v1h-1zM908 546h2v2h-2zM908 570h2v2h-2zM909 581h1v5h-1zM909 551h1v5h-1zM909 576h1v3h-1zM909 535h1v1h-1zM909 557h1v5h-1zM909 541h1v1h-1zM911 597h1v4h-1zM912 601h1v1h-1zM912 596h1v1h-1zM913 597h1v4h-1zM915 597h1v2h-1zM916 599h1v1h-1zM916 601h2v1h-2zM916 596h2v1h-2zM917 598h1v1h-1zM918 597h1v4h-1zM921 600h2v2h-2zM925 597h1v1h-1zM925 601h1v1h-1zM926 600h1v2h-1zM926 596h2v1h-2zM927 599h1v1h-1zM927 601h2v1h-2zM928 597h1v2h-1zM931 597h1v4h-1zM932 601h1v1h-1zM932 596h1v1h-1zM933 597h1v4h-1zM935 597h1v1h-1zM935 601h1v1h-1zM936 600h1v2h-1zM936 596h2v1h-2zM937 599h1v1h-1zM937 601h2v1h-2zM938 597h1v2h-1zM941 597h1v1h-1zM941 601h1v1h-1zM942 576h1v3h-1zM942 582h1v3h-1zM942 535h1v1h-1zM942 558h1v3h-1zM942 596h1v6h-1zM942 541h1v1h-1zM942 552h1v3h-1zM943 540h1v1h-1zM943 542h1v1h-1zM943 555h1v1h-1zM943 536h1v1h-1zM943 561h1v1h-1zM943 601h1v1h-1zM943 585h1v1h-1zM943 534h1v1h-1zM943 575h2v1h-2zM943 579h2v1h-2zM943 581h2v1h-2zM943 551h2v1h-2zM943 557h2v1h-2zM944 546h2v2h-2zM945 552h1v2h-1zM945 558h1v1h-1zM945 576h1v3h-1zM945 582h1v1h-1zM946 559h1v1h-1zM946 601h1v1h-1zM946 583h1v1h-1zM944 543h4v1h-4zM944 533h4v1h-4zM944 537h4v1h-4zM944 539h4v1h-4zM947 584h1v1h-1zM947 599h1v2h-1zM947 560h1v1h-1zM946 575h3v1h-3zM946 579h3v1h-3zM946 551h3v1h-3zM948 540h1v1h-1zM948 542h1v1h-1zM948 555h1v1h-1zM948 536h1v1h-1zM948 561h1v1h-1zM948 599h1v1h-1zM948 585h1v1h-1zM948 534h1v1h-1zM948 546h2v2h-2zM948 570h2v2h-2zM949 581h1v5h-1zM949 576h1v3h-1zM949 535h1v1h-1zM949 557h1v5h-1zM949 541h1v1h-1zM949 552h1v3h-1zM955 597h1v1h-1zM955 601h1v1h-1zM956 600h1v2h-1zM956 596h2v1h-2zM957 599h1v1h-1zM957 601h2v1h-2zM958 597h1v2h-1zM960 597h1v1h-1zM960 600h1v1h-1zM961 601h2v1h-2zM961 596h2v1h-2zM962 598h1v1h-1zM963 597h1v1h-1zM963 599h1v2h-1zM966 597h2v2h-2zM966 600h2v2h-2zM970 600h1v1h-1zM970 596h1v3h-1zM971 601h2v1h-2zM971 598h2v1h-2zM971 596h3v1h-3zM973 599h1v2h-1zM975 597h1v2h-1zM976 599h1v1h-1zM976 601h2v1h-2zM976 596h2v1h-2zM977 598h1v1h-1zM978 597h1v4h-1zM981 597h2v2h-2zM981 600h2v2h-2zM985 597h1v1h-1zM985 600h1v1h-1zM986 601h2v1h-2zM986 596h2v1h-2zM987 598h1v1h-1zM988 597h1v1h-1zM988 599h1v2h-1zM990 597h1v2h-1zM991 599h1v1h-1zM991 601h2v1h-2zM991 596h2v1h-2zM992 598h1v1h-1zM993 597h1v4h-1zM996 523h1v6h-1zM996 27h1v6h-1zM997 26h1v1h-1zM997 522h1v1h-1zM997 529h1v1h-1zM997 33h1v1h-1zM998 530h2v1h-2zM998 521h2v1h-2zM998 34h2v1h-2zM998 25h2v1h-2zM1000 596h1v5h-1zM1000 26h1v1h-1zM1000 529h1v1h-1zM1000 522h1v1h-1zM1000 33h1v1h-1zM1001 523h1v6h-1zM1001 27h1v6h-1zM1001 601h2v1h-2zM1003 596h1v5h-1zM1005 596h1v6h-1zM1006 529h2v2h-2zM1006 33h2v2h-2zM1006 598h2v1h-2zM1008 599h1v3h-1zM1010 598h1v4h-1zM1011 599h1v1h-1zM1012 29h1v3h-1zM1012 598h1v1h-1zM1012 523h1v6h-1zM1013 28h1v1h-1zM1013 529h1v1h-1zM1013 522h1v1h-1zM1013 599h1v1h-1zM1014 27h1v1h-1zM1013 31h3v1h-3zM1014 530h2v1h-2zM1014 521h2v1h-2zM1015 26h1v1h-1zM1016 522h1v1h-1zM1016 25h1v10h-1zM1016 529h1v1h-1zM1017 523h1v6h-1zM1017 31h1v1h-1z"/>
</svg></body></html>
